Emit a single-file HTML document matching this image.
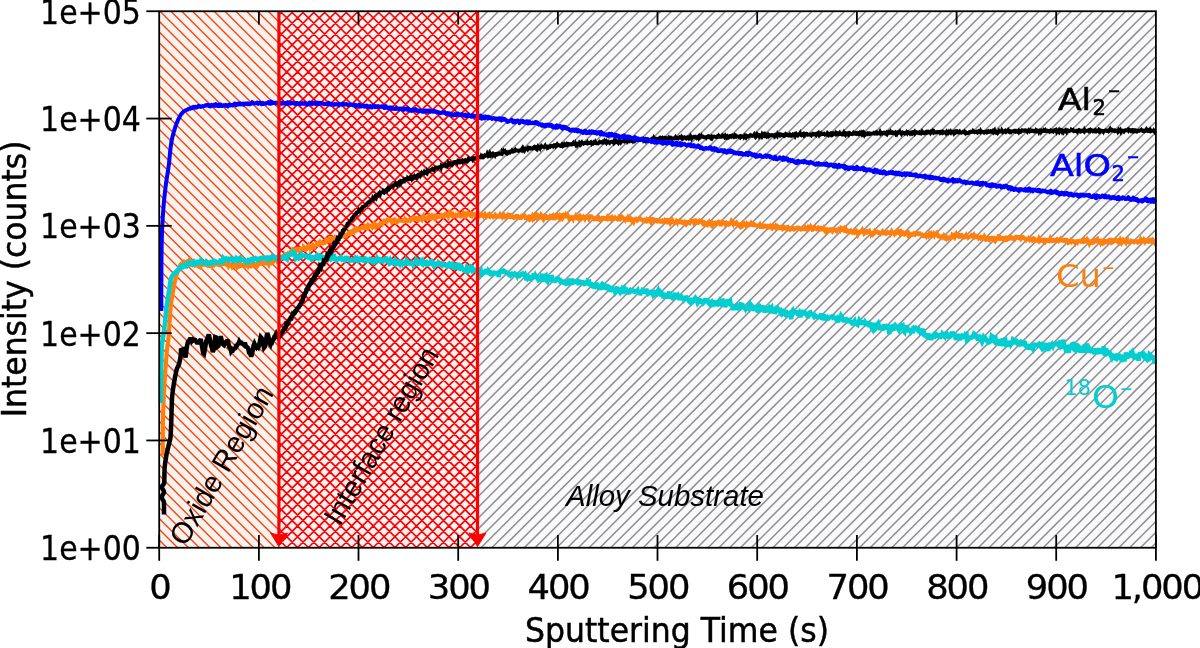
<!DOCTYPE html>
<html><head><meta charset="utf-8"><title>SIMS depth profile</title>
<style>
html,body{margin:0;padding:0;background:#fff;}
body{width:1200px;height:648px;overflow:hidden;}
svg{display:block;}
.lg{font-family:"DejaVu Sans","Liberation Sans",sans-serif;}
.hv{font-family:"Liberation Sans","DejaVu Sans",sans-serif;}
.curve{fill:none;stroke-linejoin:miter;stroke-miterlimit:2.5;stroke-linecap:butt;}
</style></head><body>
<svg width="1200" height="648" viewBox="0 0 1200 648">
<rect width="1200" height="648" fill="#ffffff"/>
<!-- regions -->
<rect x="159.2" y="11.25" width="119.7" height="536.5" fill="#f4f3f2"/>
<path d="M159.20,540.06L166.89,547.75M159.20,529.25L177.70,547.75M159.20,518.44L188.51,547.75M159.20,507.63L199.32,547.75M159.20,496.82L210.13,547.75M159.20,486.01L220.94,547.75M159.20,475.20L231.75,547.75M159.20,464.39L242.56,547.75M159.20,453.58L253.37,547.75M159.20,442.77L264.18,547.75M159.20,431.96L274.99,547.75M159.20,421.15L278.90,540.85M159.20,410.34L278.90,530.04M159.20,399.53L278.90,519.23M159.20,388.72L278.90,508.42M159.20,377.91L278.90,497.61M159.20,367.10L278.90,486.80M159.20,356.29L278.90,475.99M159.20,345.48L278.90,465.18M159.20,334.67L278.90,454.37M159.20,323.86L278.90,443.56M159.20,313.05L278.90,432.75M159.20,302.24L278.90,421.94M159.20,291.43L278.90,411.13M159.20,280.62L278.90,400.32M159.20,269.81L278.90,389.51M159.20,259.00L278.90,378.70M159.20,248.19L278.90,367.89M159.20,237.38L278.90,357.08M159.20,226.57L278.90,346.27M159.20,215.76L278.90,335.46M159.20,204.95L278.90,324.65M159.20,194.14L278.90,313.84M159.20,183.33L278.90,303.03M159.20,172.52L278.90,292.22M159.20,161.71L278.90,281.41M159.20,150.90L278.90,270.60M159.20,140.09L278.90,259.79M159.20,129.28L278.90,248.98M159.20,118.47L278.90,238.17M159.20,107.66L278.90,227.36M159.20,96.85L278.90,216.55M159.20,86.04L278.90,205.74M159.20,75.23L278.90,194.93M159.20,64.42L278.90,184.12M159.20,53.61L278.90,173.31M159.20,42.80L278.90,162.50M159.20,31.99L278.90,151.69M159.20,21.18L278.90,140.88M160.08,11.25L278.90,130.07M170.89,11.25L278.90,119.26M181.70,11.25L278.90,108.45M192.51,11.25L278.90,97.64M203.32,11.25L278.90,86.83M214.13,11.25L278.90,76.02M224.94,11.25L278.90,65.21M235.75,11.25L278.90,54.40M246.56,11.25L278.90,43.59M257.37,11.25L278.90,32.78M268.18,11.25L278.90,21.97" stroke="#ff4500" stroke-width="1.4" fill="none"/>
<rect x="278.9" y="11.25" width="198.6" height="536.5" fill="#f4f3f2"/>
<path d="M278.90,539.68L286.97,547.75M278.90,528.87L297.78,547.75M278.90,518.06L308.59,547.75M278.90,507.25L319.40,547.75M278.90,496.44L330.21,547.75M278.90,485.63L341.02,547.75M278.90,474.82L351.83,547.75M278.90,464.01L362.64,547.75M278.90,453.20L373.45,547.75M278.90,442.39L384.26,547.75M278.90,431.58L395.07,547.75M278.90,420.77L405.88,547.75M278.90,409.96L416.69,547.75M278.90,399.15L427.50,547.75M278.90,388.34L438.31,547.75M278.90,377.53L449.12,547.75M278.90,366.72L459.93,547.75M278.90,355.91L470.74,547.75M278.90,345.10L477.50,543.70M278.90,334.29L477.50,532.89M278.90,323.48L477.50,522.08M278.90,312.67L477.50,511.27M278.90,301.86L477.50,500.46M278.90,291.05L477.50,489.65M278.90,280.24L477.50,478.84M278.90,269.43L477.50,468.03M278.90,258.62L477.50,457.22M278.90,247.81L477.50,446.41M278.90,237.00L477.50,435.60M278.90,226.19L477.50,424.79M278.90,215.38L477.50,413.98M278.90,204.57L477.50,403.17M278.90,193.76L477.50,392.36M278.90,182.95L477.50,381.55M278.90,172.14L477.50,370.74M278.90,161.33L477.50,359.93M278.90,150.52L477.50,349.12M278.90,139.71L477.50,338.31M278.90,128.90L477.50,327.50M278.90,118.09L477.50,316.69M278.90,107.28L477.50,305.88M278.90,96.47L477.50,295.07M278.90,85.66L477.50,284.26M278.90,74.85L477.50,273.45M278.90,64.04L477.50,262.64M278.90,53.23L477.50,251.83M278.90,42.42L477.50,241.02M278.90,31.61L477.50,230.21M278.90,20.80L477.50,219.40M280.16,11.25L477.50,208.59M290.97,11.25L477.50,197.78M301.78,11.25L477.50,186.97M312.59,11.25L477.50,176.16M323.40,11.25L477.50,165.35M334.21,11.25L477.50,154.54M345.02,11.25L477.50,143.73M355.83,11.25L477.50,132.92M366.64,11.25L477.50,122.11M377.45,11.25L477.50,111.30M388.26,11.25L477.50,100.49M399.07,11.25L477.50,89.68M409.88,11.25L477.50,78.87M420.69,11.25L477.50,68.06M431.50,11.25L477.50,57.25M442.31,11.25L477.50,46.44M453.12,11.25L477.50,35.63M463.93,11.25L477.50,24.82M474.74,11.25L477.50,14.01M278.90,14.92L282.57,11.25M278.90,25.73L293.38,11.25M278.90,36.54L304.19,11.25M278.90,47.35L315.00,11.25M278.90,58.16L325.81,11.25M278.90,68.97L336.62,11.25M278.90,79.78L347.43,11.25M278.90,90.59L358.24,11.25M278.90,101.40L369.05,11.25M278.90,112.21L379.86,11.25M278.90,123.02L390.67,11.25M278.90,133.83L401.48,11.25M278.90,144.64L412.29,11.25M278.90,155.45L423.10,11.25M278.90,166.26L433.91,11.25M278.90,177.07L444.72,11.25M278.90,187.88L455.53,11.25M278.90,198.69L466.34,11.25M278.90,209.50L477.15,11.25M278.90,220.31L477.50,21.71M278.90,231.12L477.50,32.52M278.90,241.93L477.50,43.33M278.90,252.74L477.50,54.14M278.90,263.55L477.50,64.95M278.90,274.36L477.50,75.76M278.90,285.17L477.50,86.57M278.90,295.98L477.50,97.38M278.90,306.79L477.50,108.19M278.90,317.60L477.50,119.00M278.90,328.41L477.50,129.81M278.90,339.22L477.50,140.62M278.90,350.03L477.50,151.43M278.90,360.84L477.50,162.24M278.90,371.65L477.50,173.05M278.90,382.46L477.50,183.86M278.90,393.27L477.50,194.67M278.90,404.08L477.50,205.48M278.90,414.89L477.50,216.29M278.90,425.70L477.50,227.10M278.90,436.51L477.50,237.91M278.90,447.32L477.50,248.72M278.90,458.13L477.50,259.53M278.90,468.94L477.50,270.34M278.90,479.75L477.50,281.15M278.90,490.56L477.50,291.96M278.90,501.37L477.50,302.77M278.90,512.18L477.50,313.58M278.90,522.99L477.50,324.39M278.90,533.80L477.50,335.20M278.90,544.61L477.50,346.01M286.57,547.75L477.50,356.82M297.38,547.75L477.50,367.63M308.19,547.75L477.50,378.44M319.00,547.75L477.50,389.25M329.81,547.75L477.50,400.06M340.62,547.75L477.50,410.87M351.43,547.75L477.50,421.68M362.24,547.75L477.50,432.49M373.05,547.75L477.50,443.30M383.86,547.75L477.50,454.11M394.67,547.75L477.50,464.92M405.48,547.75L477.50,475.73M416.29,547.75L477.50,486.54M427.10,547.75L477.50,497.35M437.91,547.75L477.50,508.16M448.72,547.75L477.50,518.97M459.53,547.75L477.50,529.78M470.34,547.75L477.50,540.59" stroke="#ff0000" stroke-width="1.75" fill="none"/>
<rect x="477.5" y="11.25" width="678.4" height="536.5" fill="#fafafa"/>
<path d="M477.50,21.56L487.81,11.25M477.50,32.37L498.62,11.25M477.50,43.18L509.43,11.25M477.50,53.99L520.24,11.25M477.50,64.80L531.05,11.25M477.50,75.61L541.86,11.25M477.50,86.42L552.67,11.25M477.50,97.23L563.48,11.25M477.50,108.04L574.29,11.25M477.50,118.85L585.10,11.25M477.50,129.66L595.91,11.25M477.50,140.47L606.72,11.25M477.50,151.28L617.53,11.25M477.50,162.09L628.34,11.25M477.50,172.90L639.15,11.25M477.50,183.71L649.96,11.25M477.50,194.52L660.77,11.25M477.50,205.33L671.58,11.25M477.50,216.14L682.39,11.25M477.50,226.95L693.20,11.25M477.50,237.76L704.01,11.25M477.50,248.57L714.82,11.25M477.50,259.38L725.63,11.25M477.50,270.19L736.44,11.25M477.50,281.00L747.25,11.25M477.50,291.81L758.06,11.25M477.50,302.62L768.87,11.25M477.50,313.43L779.68,11.25M477.50,324.24L790.49,11.25M477.50,335.05L801.30,11.25M477.50,345.86L812.11,11.25M477.50,356.67L822.92,11.25M477.50,367.48L833.73,11.25M477.50,378.29L844.54,11.25M477.50,389.10L855.35,11.25M477.50,399.91L866.16,11.25M477.50,410.72L876.97,11.25M477.50,421.53L887.78,11.25M477.50,432.34L898.59,11.25M477.50,443.15L909.40,11.25M477.50,453.96L920.21,11.25M477.50,464.77L931.02,11.25M477.50,475.58L941.83,11.25M477.50,486.39L952.64,11.25M477.50,497.20L963.45,11.25M477.50,508.01L974.26,11.25M477.50,518.82L985.07,11.25M477.50,529.63L995.88,11.25M477.50,540.44L1006.69,11.25M481.00,547.75L1017.50,11.25M491.81,547.75L1028.31,11.25M502.62,547.75L1039.12,11.25M513.43,547.75L1049.93,11.25M524.24,547.75L1060.74,11.25M535.05,547.75L1071.55,11.25M545.86,547.75L1082.36,11.25M556.67,547.75L1093.17,11.25M567.48,547.75L1103.98,11.25M578.29,547.75L1114.79,11.25M589.10,547.75L1125.60,11.25M599.91,547.75L1136.41,11.25M610.72,547.75L1147.22,11.25M621.53,547.75L1155.90,13.38M632.34,547.75L1155.90,24.19M643.15,547.75L1155.90,35.00M653.96,547.75L1155.90,45.81M664.77,547.75L1155.90,56.62M675.58,547.75L1155.90,67.43M686.39,547.75L1155.90,78.24M697.20,547.75L1155.90,89.05M708.01,547.75L1155.90,99.86M718.82,547.75L1155.90,110.67M729.63,547.75L1155.90,121.48M740.44,547.75L1155.90,132.29M751.25,547.75L1155.90,143.10M762.06,547.75L1155.90,153.91M772.87,547.75L1155.90,164.72M783.68,547.75L1155.90,175.53M794.49,547.75L1155.90,186.34M805.30,547.75L1155.90,197.15M816.11,547.75L1155.90,207.96M826.92,547.75L1155.90,218.77M837.73,547.75L1155.90,229.58M848.54,547.75L1155.90,240.39M859.35,547.75L1155.90,251.20M870.16,547.75L1155.90,262.01M880.97,547.75L1155.90,272.82M891.78,547.75L1155.90,283.63M902.59,547.75L1155.90,294.44M913.40,547.75L1155.90,305.25M924.21,547.75L1155.90,316.06M935.02,547.75L1155.90,326.87M945.83,547.75L1155.90,337.68M956.64,547.75L1155.90,348.49M967.45,547.75L1155.90,359.30M978.26,547.75L1155.90,370.11M989.07,547.75L1155.90,380.92M999.88,547.75L1155.90,391.73M1010.69,547.75L1155.90,402.54M1021.50,547.75L1155.90,413.35M1032.31,547.75L1155.90,424.16M1043.12,547.75L1155.90,434.97M1053.93,547.75L1155.90,445.78M1064.74,547.75L1155.90,456.59M1075.55,547.75L1155.90,467.40M1086.36,547.75L1155.90,478.21M1097.17,547.75L1155.90,489.02M1107.98,547.75L1155.90,499.83M1118.79,547.75L1155.90,510.64M1129.60,547.75L1155.90,521.45M1140.41,547.75L1155.90,532.26M1151.22,547.75L1155.90,543.07" stroke="#8f8f95" stroke-width="1.55" fill="none"/>
<!-- curves -->
<path class="curve" d="M162.8,455.8 L162.8,455.1 L162.8,454.4 L162.8,453.7 L162.8,453.0 L162.8,452.3 L162.8,451.6 L162.8,450.9 L162.8,450.2 L162.8,449.5 L162.8,448.8 L162.8,448.1 L162.8,447.4 L162.8,446.7 L162.8,446.0 L162.8,445.3 L162.8,444.6 L162.8,443.9 L162.8,443.2 L162.8,442.5 L162.8,441.8 L162.8,441.1 L162.8,440.4 L162.8,439.7 L162.8,439.0 L162.8,438.3 L162.8,437.6 L162.9,436.9 L162.9,436.2 L162.9,435.5 L162.9,434.8 L162.9,434.1 L162.9,433.4 L162.9,432.7 L162.9,432.0 L162.9,431.3 L162.9,430.6 L162.9,429.9 L162.9,429.2 L162.9,428.5 L162.9,427.8 L162.9,427.1 L162.9,426.4 L162.9,425.7 L162.9,425.0 L162.9,424.3 L162.9,423.6 L163.0,422.9 L163.0,422.2 L163.0,421.5 L163.0,420.8 L163.0,420.1 L163.0,419.4 L163.0,418.7 L163.0,418.0 L163.1,417.3 L163.1,416.6 L163.1,415.9 L163.1,415.2 L163.1,414.5 L163.1,413.8 L163.2,413.1 L163.2,412.4 L163.2,411.7 L163.2,411.0 L163.2,410.3 L163.3,409.6 L163.3,408.9 L163.3,408.2 L163.3,407.5 L163.4,406.8 L163.4,406.1 L163.4,405.4 L163.4,404.7 L163.5,404.0 L163.5,403.3 L163.5,402.6 L163.6,401.9 L163.6,401.2 L163.6,400.5 L163.6,399.8 L163.7,399.1 L163.7,398.4 L163.7,397.7 L163.8,397.0 L163.8,396.3 L163.8,395.6 L163.9,394.9 L163.9,394.2 L163.9,393.5 L164.0,392.8 L164.0,392.1 L164.1,391.4 L164.1,390.7 L164.1,390.0 L164.2,389.3 L164.2,388.6 L164.3,387.9 L164.3,387.2 L164.3,386.5 L164.4,385.8 L164.4,385.1 L164.5,384.4 L164.5,383.7 L164.5,383.0 L164.6,382.3 L164.6,381.6 L164.7,380.9 L164.7,380.2 L164.8,379.5 L164.8,378.8 L164.9,378.1 L164.9,377.4 L164.9,376.7 L165.0,376.0 L165.0,375.3 L165.1,374.6 L165.1,373.9 L165.2,373.2 L165.2,372.5 L165.3,371.8 L165.3,371.1 L165.4,370.4 L165.4,369.7 L165.5,369.0 L165.5,368.3 L165.6,367.6 L165.6,366.9 L165.7,366.2 L165.7,365.5 L165.8,364.8 L165.8,364.2 L165.9,363.5 L165.9,362.8 L166.0,362.1 L166.0,361.4 L166.1,360.7 L166.2,360.0 L166.2,359.3 L166.3,358.6 L166.3,357.9 L166.4,357.2 L166.4,356.5 L166.5,355.8 L166.5,355.1 L166.6,354.4 L166.6,353.7 L166.7,353.0 L166.8,352.3 L166.8,351.6 L166.9,350.9 L167.0,350.2 L167.1,349.5 L167.2,348.8 L167.2,348.1 L167.3,347.4 L167.4,346.7 L167.5,346.0 L167.6,345.3 L167.7,344.7 L167.8,344.0 L167.9,343.3 L168.0,342.6 L168.1,341.9 L168.2,341.2 L168.3,340.5 L168.3,339.8 L168.4,339.1 L168.4,338.4 L168.5,337.7 L168.6,337.0 L168.6,336.3 L168.7,335.6 L168.7,334.9 L168.8,334.2 L168.8,333.5 L168.9,332.8 L168.9,332.1 L169.0,331.4 L169.0,330.7 L169.1,330.0 L169.1,329.3 L169.2,328.6 L169.2,327.9 L169.3,327.2 L169.3,326.5 L169.4,325.8 L169.4,325.1 L169.5,324.4 L169.5,323.7 L169.5,323.0 L169.6,322.3 L169.6,321.6 L169.7,320.9 L169.7,320.2 L169.8,319.5 L169.8,318.8 L169.9,318.1 L169.9,317.4 L169.9,316.7 L170.0,316.0 L170.0,315.3 L170.1,314.6 L170.2,313.9 L170.2,313.2 L170.3,312.5 L170.3,311.9 L170.4,311.2 L170.4,310.5 L170.5,309.8 L170.6,309.1 L170.6,308.4 L170.7,307.7 L170.8,307.0 L170.8,306.3 L170.9,305.6 L171.0,304.9 L171.1,304.2 L171.2,303.5 L171.2,302.8 L171.3,302.1 L171.4,301.4 L171.5,300.7 L171.6,300.0 L171.7,299.3 L171.8,298.6 L171.9,297.9 L172.0,297.2 L172.1,296.6 L172.2,295.9 L172.4,295.2 L172.5,294.5 L172.6,293.8 L172.7,293.1 L172.8,292.4 L172.9,291.7 L173.1,291.0 L173.2,290.4 L173.3,289.7 L173.4,289.0 L173.6,288.3 L173.7,287.6 L173.8,286.9 L174.0,286.2 L174.1,285.5 L174.2,284.8 L174.4,284.2 L174.5,283.5 L174.6,282.8 L174.8,282.1 L174.9,281.4 L175.1,280.7 L175.2,280.1 L175.4,279.4 L175.6,278.7 L175.7,278.0 L175.9,277.3 L176.1,276.7 L176.3,275.9 L176.5,275.3 L176.7,274.6 L176.9,274.0 L177.1,273.3 L177.3,272.7 L177.5,271.9 L177.7,271.3 L178.0,270.6 L178.3,270.0 L178.5,269.2 L178.8,268.7 L179.1,268.1 L179.5,267.4 L179.8,266.6 L180.2,266.0 L180.5,265.2 L180.9,265.3 L181.4,265.1 L181.9,263.4 L182.4,263.2 L183.0,263.1 L183.6,262.4 L184.2,263.6 L184.8,262.0 L185.5,262.2 L186.1,260.7 L186.7,263.5 L187.4,262.1 L188.0,262.8 L188.7,262.4 L189.4,260.6 L190.0,261.3 L190.7,261.8 L191.4,263.7 L192.1,263.0 L192.7,264.1 L193.4,264.2 L194.1,264.4 L194.8,265.3 L195.4,264.8 L196.1,263.3 L196.8,264.4 L197.5,266.9 L198.2,264.2 L198.9,266.8 L199.5,267.1 L200.2,264.7 L200.9,265.6 L201.6,263.7 L202.3,265.9 L203.0,264.2 L203.7,263.5 L204.4,264.5 L205.1,264.4 L205.8,264.2 L206.5,265.0 L207.2,264.7 L207.9,264.2 L208.6,265.9 L209.3,267.2 L210.0,265.1 L210.7,264.3 L211.4,264.0 L212.1,265.7 L212.8,264.6 L213.5,265.0 L214.2,262.8 L214.9,263.6 L215.6,263.5 L216.3,265.5 L217.0,264.1 L217.7,262.0 L218.4,264.5 L219.1,265.1 L219.8,265.1 L220.5,259.9 L221.2,263.8 L221.9,264.5 L222.6,264.3 L223.3,263.4 L224.0,261.9 L224.7,263.4 L225.4,263.6 L226.1,264.7 L226.8,264.9 L227.5,264.2 L228.2,265.5 L228.9,263.7 L229.6,264.3 L230.3,265.1 L231.0,265.9 L231.7,265.2 L232.4,266.9 L233.1,266.1 L233.8,264.8 L234.5,265.9 L235.2,264.9 L235.9,264.7 L236.6,264.2 L237.3,267.1 L238.0,266.4 L238.7,263.7 L239.4,266.4 L240.1,266.1 L240.8,264.6 L241.5,265.4 L242.2,267.0 L242.9,265.1 L243.6,265.2 L244.3,265.9 L245.0,263.6 L245.7,263.4 L246.4,263.3 L247.1,264.8 L247.8,265.9 L248.5,264.1 L249.2,263.6 L249.9,265.4 L250.6,264.8 L251.3,265.8 L252.0,265.1 L252.7,265.0 L253.4,265.1 L254.1,265.1 L254.8,264.0 L255.5,262.9 L256.2,266.4 L256.9,266.7 L257.6,265.6 L258.3,262.5 L259.0,264.1 L259.7,265.2 L260.4,262.2 L261.1,263.2 L261.8,263.2 L262.5,262.6 L263.2,262.6 L263.9,264.5 L264.6,262.9 L265.3,263.0 L266.0,264.9 L266.6,262.1 L267.3,259.5 L268.0,263.3 L268.7,264.5 L269.4,262.4 L270.1,262.5 L270.8,260.4 L271.5,260.5 L272.2,262.7 L272.9,262.3 L273.5,261.4 L274.2,260.1 L274.8,259.4 L275.5,259.4 L276.1,259.1 L276.7,260.2 L277.3,258.8 L277.9,258.7 L278.4,259.2 L279.0,258.8 L279.6,258.0 L280.2,258.1 L280.9,257.4 L281.5,255.5 L282.1,256.7 L282.7,256.1 L283.4,255.8 L284.0,256.0 L284.6,255.0 L285.3,256.2 L285.9,254.6 L286.5,254.6 L287.2,254.6 L287.8,253.7 L288.4,254.1 L289.1,254.3 L289.7,253.4 L290.4,251.9 L291.0,251.5 L291.7,251.4 L292.3,251.7 L292.9,249.8 L293.6,250.4 L294.2,249.8 L294.9,250.0 L295.5,249.5 L296.2,250.9 L296.9,250.4 L297.5,250.6 L298.2,248.6 L298.8,248.5 L299.5,248.8 L300.2,251.6 L300.9,250.3 L301.5,247.8 L302.2,248.9 L302.9,250.1 L303.6,246.9 L304.2,247.5 L304.9,248.8 L305.6,248.1 L306.3,246.3 L307.0,248.7 L307.6,248.1 L308.3,247.8 L309.0,245.9 L309.6,246.9 L310.3,248.3 L311.0,247.4 L311.7,247.6 L312.3,246.5 L313.0,248.0 L313.7,246.1 L314.4,247.0 L315.0,246.1 L315.7,244.6 L316.4,246.6 L317.0,243.6 L317.7,243.8 L318.4,244.3 L319.0,242.5 L319.7,241.8 L320.4,243.1 L321.1,242.6 L321.7,242.6 L322.4,243.1 L323.1,244.5 L323.7,241.9 L324.4,244.1 L325.1,242.1 L325.7,241.5 L326.4,239.4 L327.1,239.7 L327.7,241.2 L328.4,241.2 L329.1,239.7 L329.7,240.7 L330.4,240.9 L331.1,239.3 L331.7,238.2 L332.4,238.6 L333.1,239.1 L333.7,239.5 L334.4,239.8 L335.1,238.0 L335.7,238.7 L336.4,238.2 L337.0,238.2 L337.7,239.0 L338.4,239.0 L339.0,237.1 L339.7,236.7 L340.3,236.4 L341.0,236.3 L341.6,236.2 L342.3,236.2 L342.9,235.7 L343.6,234.9 L344.2,234.6 L344.8,235.4 L345.5,238.1 L346.1,235.3 L346.7,235.1 L347.4,234.5 L348.0,233.8 L348.6,235.3 L349.3,233.1 L349.9,232.2 L350.5,231.7 L351.1,232.6 L351.8,231.3 L352.4,231.1 L353.1,230.8 L353.7,230.1 L354.3,231.1 L355.0,229.2 L355.6,232.4 L356.3,228.2 L356.9,228.5 L357.6,229.6 L358.3,229.7 L358.9,228.6 L359.6,228.9 L360.3,228.5 L360.9,228.2 L361.6,228.4 L362.3,227.8 L363.0,227.1 L363.6,226.8 L364.3,227.6 L365.0,226.3 L365.7,226.9 L366.4,227.7 L367.1,226.4 L367.8,227.1 L368.4,225.3 L369.1,226.0 L369.8,226.1 L370.5,225.8 L371.2,226.0 L371.9,226.9 L372.5,225.2 L373.2,224.8 L373.9,225.8 L374.6,224.0 L375.3,225.4 L376.0,226.5 L376.7,225.2 L377.3,225.6 L378.0,225.3 L378.7,225.9 L379.4,225.0 L380.1,224.4 L380.8,221.7 L381.4,223.0 L382.1,223.9 L382.8,222.7 L383.5,221.7 L384.2,223.1 L384.9,220.9 L385.6,221.1 L386.3,221.9 L387.0,220.5 L387.6,221.0 L388.3,220.6 L389.0,219.4 L389.7,220.0 L390.4,220.2 L391.1,220.1 L391.8,222.0 L392.5,221.0 L393.2,220.5 L393.9,219.9 L394.6,221.1 L395.2,222.9 L395.9,221.3 L396.6,222.4 L397.3,222.0 L398.0,221.0 L398.7,220.4 L399.4,221.9 L400.1,219.5 L400.8,221.7 L401.5,219.8 L402.2,221.8 L402.9,220.4 L403.6,220.7 L404.3,222.5 L405.0,219.6 L405.7,220.6 L406.4,220.1 L407.1,220.9 L407.8,221.0 L408.5,220.4 L409.1,220.1 L409.8,219.3 L410.5,220.2 L411.2,219.2 L411.9,219.4 L412.6,219.3 L413.3,217.6 L414.0,217.7 L414.7,219.0 L415.4,218.7 L416.1,220.8 L416.8,216.4 L417.5,218.7 L418.2,219.5 L418.9,218.4 L419.6,219.1 L420.3,218.3 L421.0,218.2 L421.7,219.2 L422.4,216.9 L423.1,216.1 L423.8,218.8 L424.5,218.5 L425.2,218.5 L425.9,218.7 L426.6,219.0 L427.3,217.9 L428.0,218.8 L428.7,218.6 L429.4,216.9 L430.1,217.8 L430.8,218.2 L431.5,216.9 L432.2,218.7 L432.9,217.2 L433.6,218.2 L434.3,218.7 L435.0,215.6 L435.7,215.6 L436.4,217.5 L437.1,216.6 L437.8,217.2 L438.4,218.3 L439.1,215.9 L439.8,217.7 L440.5,215.8 L441.2,215.2 L441.9,216.2 L442.6,215.8 L443.3,216.5 L444.0,215.6 L444.7,216.1 L445.4,215.7 L446.1,212.1 L446.8,214.7 L447.5,214.8 L448.2,216.1 L448.9,214.1 L449.6,215.4 L450.3,214.8 L451.0,213.4 L451.7,215.2 L452.4,216.0 L453.1,215.0 L453.8,216.3 L454.5,215.8 L455.2,215.7 L455.9,214.9 L456.6,215.3 L457.3,216.0 L458.0,215.5 L458.7,214.2 L459.4,215.3 L460.1,215.8 L460.8,216.5 L461.5,216.1 L462.2,214.1 L462.9,215.7 L463.6,213.2 L464.3,214.1 L465.0,213.8 L465.7,216.1 L466.4,215.2 L467.1,214.7 L467.8,213.7 L468.5,215.6 L469.2,214.0 L469.9,214.8 L470.6,215.5 L471.3,214.1 L472.0,215.0 L472.7,212.4 L473.4,215.1 L474.1,212.8 L474.8,215.0 L475.5,215.0 L476.2,215.2 L476.9,217.0 L477.6,212.7 L478.3,215.5 L479.0,214.7 L479.7,216.0 L480.4,215.6 L481.1,215.4 L481.8,214.8 L482.5,214.6 L483.2,215.7 L483.9,213.8 L484.6,216.5 L485.3,214.7 L486.0,215.8 L486.7,214.0 L487.4,215.7 L488.1,215.0 L488.8,216.1 L489.5,216.6 L490.2,214.8 L490.9,215.6 L491.6,215.9 L492.3,217.3 L493.0,214.6 L493.7,216.7 L494.4,216.2 L495.1,215.1 L495.8,216.2 L496.5,216.0 L497.2,217.9 L497.9,215.8 L498.6,217.9 L499.3,216.4 L500.0,217.6 L500.7,215.0 L501.4,215.9 L502.1,216.8 L502.8,215.0 L503.5,214.8 L504.2,216.4 L504.9,217.0 L505.6,216.1 L506.3,215.7 L507.0,216.3 L507.7,215.3 L508.4,216.6 L509.1,216.8 L509.8,213.3 L510.5,216.7 L511.2,216.8 L511.9,215.9 L512.6,216.4 L513.3,217.3 L514.0,217.9 L514.7,217.6 L515.4,215.8 L516.1,217.5 L516.8,214.4 L517.5,217.2 L518.2,217.0 L518.9,217.4 L519.6,215.5 L520.3,218.0 L521.0,218.0 L521.7,216.9 L522.4,214.3 L523.1,217.3 L523.8,216.2 L524.5,215.5 L525.2,216.5 L525.9,219.5 L526.6,215.9 L527.3,217.2 L528.0,217.7 L528.7,218.6 L529.4,216.5 L530.1,216.6 L530.8,218.5 L531.5,217.8 L532.2,218.8 L532.9,216.2 L533.6,217.3 L534.3,218.3 L535.0,217.3 L535.7,215.9 L536.4,217.1 L537.1,214.9 L537.8,215.4 L538.5,217.5 L539.2,217.6 L539.9,217.1 L540.6,217.4 L541.3,215.1 L542.0,216.0 L542.7,217.8 L543.4,219.0 L544.1,217.2 L544.8,215.8 L545.5,215.8 L546.2,218.0 L546.9,217.9 L547.6,215.5 L548.3,216.9 L549.0,218.2 L549.7,218.2 L550.4,216.2 L551.1,216.6 L551.8,217.3 L552.5,215.7 L553.2,215.2 L553.9,216.3 L554.6,218.3 L555.3,218.2 L556.0,217.6 L556.7,215.9 L557.4,215.1 L558.1,216.1 L558.8,217.2 L559.5,218.3 L560.2,216.3 L560.9,217.3 L561.6,215.4 L562.3,215.1 L563.0,217.2 L563.7,216.0 L564.4,216.1 L565.1,215.1 L565.8,218.0 L566.5,215.3 L567.2,217.2 L567.9,215.6 L568.6,216.7 L569.3,218.6 L570.0,217.4 L570.7,217.3 L571.4,218.2 L572.1,217.8 L572.8,218.8 L573.5,215.8 L574.2,218.8 L574.9,217.5 L575.6,216.3 L576.3,218.1 L577.0,218.0 L577.7,217.4 L578.4,218.3 L579.1,216.1 L579.8,215.7 L580.5,216.8 L581.2,218.5 L581.9,217.9 L582.6,217.4 L583.3,216.7 L584.0,217.4 L584.7,218.6 L585.4,216.8 L586.1,216.7 L586.8,217.8 L587.5,218.0 L588.2,217.5 L588.9,218.8 L589.6,217.5 L590.3,216.3 L591.0,215.2 L591.7,218.7 L592.4,217.3 L593.1,217.9 L593.8,218.2 L594.5,219.2 L595.2,219.1 L595.9,219.2 L596.6,218.6 L597.3,218.2 L598.0,218.8 L598.7,217.8 L599.4,219.1 L600.1,219.9 L600.8,219.5 L601.5,218.9 L602.2,217.8 L602.9,217.7 L603.6,217.7 L604.3,217.9 L605.0,218.7 L605.7,219.0 L606.4,218.7 L607.1,219.1 L607.8,217.0 L608.5,217.8 L609.2,218.6 L609.9,218.9 L610.6,217.4 L611.3,217.0 L612.0,219.5 L612.7,219.1 L613.4,218.9 L614.1,218.1 L614.8,217.5 L615.5,218.4 L616.2,218.8 L616.9,219.0 L617.6,219.4 L618.3,218.6 L619.0,220.7 L619.7,218.2 L620.4,219.1 L621.1,218.6 L621.8,216.7 L622.5,217.3 L623.2,218.1 L623.9,218.9 L624.6,219.1 L625.3,220.1 L626.0,218.8 L626.7,218.4 L627.4,219.1 L628.1,217.6 L628.8,218.7 L629.5,217.8 L630.2,219.0 L630.9,218.3 L631.5,218.7 L632.2,221.2 L632.9,220.4 L633.6,221.6 L634.3,219.7 L635.0,219.4 L635.7,218.9 L636.4,219.7 L637.1,218.1 L637.8,220.0 L638.5,219.4 L639.2,218.7 L639.9,218.2 L640.6,219.2 L641.3,219.7 L642.0,220.2 L642.7,218.5 L643.4,220.2 L644.1,220.6 L644.8,222.5 L645.5,220.7 L646.2,221.2 L646.9,219.5 L647.6,220.2 L648.3,219.4 L649.0,219.3 L649.7,220.6 L650.4,219.9 L651.1,221.6 L651.8,220.1 L652.5,220.7 L653.2,219.1 L653.9,219.4 L654.6,221.8 L655.3,220.0 L656.0,222.2 L656.7,220.1 L657.4,220.1 L658.1,223.1 L658.8,219.4 L659.5,220.6 L660.2,221.7 L660.9,221.8 L661.6,219.9 L662.3,223.2 L663.0,220.5 L663.7,219.0 L664.4,221.9 L665.1,220.4 L665.8,221.0 L666.5,221.7 L667.2,220.0 L667.9,220.2 L668.6,220.9 L669.3,222.0 L670.0,219.8 L670.7,222.7 L671.4,221.7 L672.1,220.2 L672.8,221.4 L673.5,222.0 L674.2,222.8 L674.9,222.4 L675.6,222.7 L676.3,221.4 L677.0,222.4 L677.7,219.4 L678.4,222.7 L679.1,221.7 L679.8,223.4 L680.5,221.2 L681.2,221.4 L681.9,222.0 L682.6,222.9 L683.3,222.7 L684.0,223.2 L684.7,222.2 L685.4,223.3 L686.1,224.3 L686.8,223.4 L687.5,222.8 L688.2,220.6 L688.9,222.7 L689.6,223.1 L690.3,221.8 L691.0,223.0 L691.7,219.7 L692.4,221.1 L693.1,220.8 L693.8,222.3 L694.5,220.8 L695.2,220.6 L695.9,223.1 L696.6,220.0 L697.3,222.5 L698.0,222.7 L698.7,221.3 L699.4,220.7 L700.1,221.6 L700.8,221.3 L701.5,221.2 L702.2,222.4 L702.9,222.2 L703.6,224.6 L704.3,224.8 L705.0,222.8 L705.7,223.3 L706.4,224.6 L707.1,225.0 L707.8,223.0 L708.5,222.2 L709.2,225.0 L709.9,223.2 L710.6,223.6 L711.3,224.8 L712.0,223.7 L712.7,224.9 L713.4,223.3 L714.0,223.8 L714.7,223.4 L715.4,225.8 L716.1,222.0 L716.8,223.3 L717.5,222.5 L718.2,222.6 L718.9,221.9 L719.6,222.3 L720.3,224.4 L721.0,224.5 L721.7,222.3 L722.4,221.7 L723.1,222.5 L723.8,224.7 L724.5,223.0 L725.2,220.9 L725.9,224.0 L726.6,223.1 L727.3,223.9 L728.0,223.7 L728.7,221.9 L729.4,224.3 L730.1,223.9 L730.8,222.5 L731.5,221.0 L732.2,221.9 L732.9,222.0 L733.6,223.9 L734.3,222.6 L735.0,222.8 L735.7,223.4 L736.4,222.7 L737.1,224.1 L737.8,224.2 L738.5,225.0 L739.2,223.0 L739.9,224.8 L740.6,224.4 L741.3,227.0 L742.0,226.6 L742.7,224.8 L743.4,226.3 L744.1,223.6 L744.8,224.4 L745.5,225.2 L746.2,226.0 L746.9,224.3 L747.6,225.5 L748.3,226.7 L749.0,222.5 L749.7,223.8 L750.4,223.2 L751.1,226.3 L751.8,223.9 L752.5,224.6 L753.2,224.0 L753.9,224.8 L754.6,224.6 L755.3,225.2 L756.0,225.2 L756.7,226.8 L757.4,224.3 L758.1,225.7 L758.8,225.5 L759.5,224.7 L760.1,226.7 L760.8,227.8 L761.5,224.9 L762.2,228.3 L762.9,226.0 L763.6,226.1 L764.3,224.1 L765.0,226.4 L765.7,226.2 L766.4,226.2 L767.1,227.3 L767.8,226.5 L768.5,227.1 L769.2,226.2 L769.9,225.7 L770.6,227.1 L771.3,227.7 L772.0,228.4 L772.7,227.4 L773.4,226.5 L774.1,227.4 L774.8,227.2 L775.5,226.2 L776.2,227.9 L776.9,227.4 L777.6,226.4 L778.3,227.0 L779.0,228.2 L779.7,229.2 L780.4,225.7 L781.1,227.3 L781.8,228.3 L782.5,229.0 L783.2,228.2 L783.9,226.9 L784.6,227.5 L785.3,228.1 L786.0,227.4 L786.7,227.3 L787.4,227.1 L788.1,230.8 L788.8,228.6 L789.5,228.4 L790.2,229.4 L790.9,228.7 L791.6,228.4 L792.3,228.8 L793.0,227.7 L793.7,228.0 L794.4,229.3 L795.1,228.9 L795.8,227.1 L796.5,229.7 L797.2,227.7 L797.9,226.4 L798.6,228.8 L799.3,228.7 L800.0,228.3 L800.7,227.0 L801.4,229.3 L802.1,229.0 L802.8,228.5 L803.5,228.4 L804.2,228.6 L804.9,230.5 L805.6,227.8 L806.3,228.6 L807.0,229.4 L807.7,229.0 L808.4,227.3 L809.1,228.0 L809.8,227.6 L810.5,226.5 L811.2,227.7 L811.9,229.0 L812.6,228.3 L813.3,229.2 L814.0,228.6 L814.7,227.6 L815.4,229.0 L816.1,226.8 L816.8,230.1 L817.5,228.6 L818.2,230.9 L818.9,227.9 L819.6,228.4 L820.3,229.1 L821.0,229.3 L821.7,228.0 L822.4,228.3 L823.1,230.2 L823.8,228.8 L824.5,230.5 L825.2,231.3 L825.9,228.0 L826.6,229.2 L827.3,231.5 L828.0,230.8 L828.7,228.3 L829.4,230.5 L830.1,231.6 L830.8,227.7 L831.5,230.4 L832.2,231.2 L832.9,229.5 L833.6,229.4 L834.3,230.8 L835.0,228.3 L835.7,230.6 L836.4,231.2 L837.1,230.0 L837.8,228.2 L838.5,231.5 L839.2,229.7 L839.9,230.4 L840.6,228.9 L841.2,229.8 L841.9,231.2 L842.6,228.5 L843.3,228.8 L844.0,228.2 L844.7,231.0 L845.4,231.1 L846.1,229.8 L846.8,231.2 L847.5,231.0 L848.2,233.1 L848.9,229.9 L849.6,231.6 L850.3,231.0 L851.0,233.5 L851.7,232.2 L852.4,230.6 L853.1,232.4 L853.8,231.9 L854.5,231.2 L855.2,232.7 L855.9,232.4 L856.6,231.1 L857.3,231.8 L858.0,234.3 L858.7,233.2 L859.4,231.9 L860.1,231.6 L860.8,232.1 L861.5,231.6 L862.2,230.4 L862.9,232.3 L863.6,230.7 L864.3,233.1 L865.0,232.3 L865.7,232.5 L866.4,231.5 L867.1,232.1 L867.8,231.4 L868.5,231.7 L869.2,231.1 L869.9,233.8 L870.6,231.1 L871.3,234.1 L872.0,233.1 L872.7,231.4 L873.4,233.7 L874.1,232.8 L874.8,231.5 L875.5,232.6 L876.2,232.1 L876.9,231.7 L877.6,232.5 L878.3,232.9 L879.0,232.4 L879.7,232.8 L880.4,233.7 L881.1,232.8 L881.8,232.6 L882.5,231.6 L883.2,232.9 L883.9,232.5 L884.6,232.7 L885.3,233.7 L886.0,233.8 L886.7,232.9 L887.4,232.2 L888.1,232.9 L888.8,233.0 L889.5,232.9 L890.2,231.1 L890.9,232.9 L891.6,231.5 L892.3,232.9 L893.0,233.0 L893.7,232.7 L894.4,233.8 L895.1,232.6 L895.8,233.0 L896.5,231.7 L897.2,232.6 L897.9,232.5 L898.6,232.8 L899.3,232.6 L900.0,229.1 L900.7,234.3 L901.4,233.6 L902.1,230.8 L902.8,233.3 L903.5,234.1 L904.2,234.5 L904.9,234.0 L905.6,233.2 L906.3,232.9 L907.0,235.6 L907.7,234.1 L908.4,235.5 L909.1,233.7 L909.8,234.8 L910.5,234.8 L911.2,234.7 L911.9,232.6 L912.6,236.0 L913.3,234.2 L914.0,233.4 L914.7,234.0 L915.4,231.9 L916.1,235.1 L916.8,233.3 L917.5,234.0 L918.2,234.0 L918.9,232.0 L919.6,233.6 L920.3,235.4 L920.9,233.4 L921.6,234.6 L922.3,235.5 L923.0,237.4 L923.7,233.7 L924.4,235.7 L925.1,235.4 L925.8,235.2 L926.5,236.4 L927.2,235.4 L927.9,233.6 L928.6,235.1 L929.3,233.9 L930.0,234.9 L930.7,234.1 L931.4,236.1 L932.1,235.6 L932.8,235.2 L933.5,234.1 L934.2,235.4 L934.9,233.9 L935.6,234.2 L936.3,233.5 L937.0,236.2 L937.7,234.9 L938.4,236.4 L939.1,236.7 L939.8,236.7 L940.5,235.3 L941.2,237.3 L941.9,237.1 L942.6,234.7 L943.3,236.5 L944.0,235.4 L944.7,236.2 L945.4,237.7 L946.1,236.9 L946.8,238.3 L947.5,237.3 L948.2,237.4 L948.9,238.3 L949.6,237.8 L950.3,237.3 L951.0,237.8 L951.7,237.5 L952.4,234.7 L953.1,235.0 L953.8,236.0 L954.5,237.0 L955.2,235.0 L955.9,234.0 L956.6,235.7 L957.3,235.2 L958.0,237.3 L958.7,233.5 L959.4,236.8 L960.1,236.7 L960.8,233.8 L961.5,235.1 L962.2,236.0 L962.9,236.8 L963.6,236.5 L964.3,237.3 L965.0,236.9 L965.7,235.9 L966.4,238.6 L967.1,237.2 L967.8,235.4 L968.5,237.4 L969.2,236.8 L969.9,236.5 L970.6,236.3 L971.3,235.4 L972.0,236.0 L972.7,235.6 L973.4,234.9 L974.1,237.4 L974.8,237.3 L975.5,236.8 L976.2,235.9 L976.9,236.3 L977.6,238.8 L978.3,236.3 L979.0,238.2 L979.7,237.7 L980.4,238.3 L981.1,236.9 L981.8,237.2 L982.5,237.5 L983.2,236.4 L983.9,239.1 L984.6,236.9 L985.3,238.0 L986.0,239.8 L986.7,239.6 L987.4,237.5 L988.1,238.8 L988.8,239.4 L989.5,236.3 L990.2,240.6 L990.9,239.1 L991.6,238.2 L992.3,238.5 L993.0,236.3 L993.7,239.3 L994.4,240.2 L995.1,238.3 L995.8,240.2 L996.5,239.2 L997.2,237.0 L997.9,239.0 L998.6,236.2 L999.3,236.3 L1000.0,238.9 L1000.7,238.8 L1001.4,238.0 L1002.1,238.0 L1002.8,236.5 L1003.5,239.1 L1004.2,238.0 L1004.9,237.8 L1005.6,241.7 L1006.3,238.3 L1007.0,238.0 L1007.7,240.2 L1008.4,238.4 L1009.1,237.6 L1009.8,239.7 L1010.5,237.9 L1011.2,237.2 L1011.9,237.6 L1012.6,238.0 L1013.3,238.9 L1014.0,239.2 L1014.7,236.6 L1015.4,239.1 L1016.1,237.1 L1016.8,237.2 L1017.5,235.3 L1018.1,239.3 L1018.8,238.2 L1019.5,237.3 L1020.2,237.3 L1020.9,238.6 L1021.6,237.6 L1022.3,235.4 L1023.0,238.1 L1023.7,237.9 L1024.4,238.2 L1025.1,238.3 L1025.8,239.3 L1026.5,237.8 L1027.2,240.7 L1027.9,239.0 L1028.6,238.2 L1029.3,239.2 L1030.0,237.4 L1030.7,239.2 L1031.4,238.7 L1032.1,238.5 L1032.8,240.5 L1033.5,240.1 L1034.2,238.8 L1034.9,239.3 L1035.6,240.3 L1036.3,242.1 L1037.0,239.9 L1037.7,239.9 L1038.4,240.7 L1039.1,238.8 L1039.8,240.1 L1040.5,241.0 L1041.2,240.7 L1041.9,240.7 L1042.6,238.2 L1043.3,240.4 L1044.0,241.9 L1044.7,242.5 L1045.4,241.5 L1046.1,239.8 L1046.8,239.9 L1047.5,240.2 L1048.2,242.4 L1048.9,238.9 L1049.6,240.0 L1050.3,238.4 L1051.0,239.7 L1051.7,239.8 L1052.4,241.0 L1053.1,240.9 L1053.8,240.3 L1054.5,239.8 L1055.2,239.7 L1055.9,242.0 L1056.6,240.2 L1057.3,239.3 L1058.0,239.8 L1058.7,240.7 L1059.4,239.8 L1060.1,239.1 L1060.8,241.7 L1061.5,240.0 L1062.2,240.6 L1062.9,240.8 L1063.6,240.3 L1064.3,240.5 L1065.0,238.3 L1065.7,240.7 L1066.4,240.4 L1067.1,240.2 L1067.8,240.6 L1068.5,242.8 L1069.2,242.5 L1069.9,242.1 L1070.6,242.3 L1071.3,240.2 L1072.0,240.6 L1072.7,241.1 L1073.4,241.6 L1074.1,241.5 L1074.8,242.6 L1075.5,240.5 L1076.2,242.2 L1076.9,240.1 L1077.6,241.5 L1078.3,239.9 L1079.0,242.4 L1079.7,240.6 L1080.4,242.6 L1081.1,239.3 L1081.8,243.3 L1082.5,241.4 L1083.2,241.9 L1083.9,241.7 L1084.6,239.7 L1085.3,240.4 L1086.0,240.8 L1086.7,241.3 L1087.4,239.7 L1088.1,240.7 L1088.8,241.4 L1089.5,243.4 L1090.2,242.1 L1090.9,240.0 L1091.6,242.2 L1092.3,242.9 L1093.0,242.7 L1093.7,240.9 L1094.4,240.3 L1095.1,240.9 L1095.8,243.1 L1096.5,239.6 L1097.2,239.1 L1097.9,242.4 L1098.6,240.8 L1099.3,241.5 L1100.0,241.1 L1100.7,242.7 L1101.4,241.2 L1102.1,240.8 L1102.8,240.7 L1103.5,243.4 L1104.2,243.1 L1104.9,241.0 L1105.6,240.8 L1106.3,241.1 L1107.0,241.8 L1107.7,240.2 L1108.4,242.6 L1109.1,241.2 L1109.8,238.5 L1110.5,239.7 L1111.2,240.4 L1111.9,242.8 L1112.6,242.4 L1113.3,240.9 L1114.0,238.7 L1114.7,240.7 L1115.4,240.8 L1116.1,240.3 L1116.8,241.0 L1117.5,241.7 L1118.2,240.5 L1118.9,240.0 L1119.6,241.4 L1120.3,239.7 L1121.0,241.0 L1121.7,242.8 L1122.4,241.8 L1123.1,240.4 L1123.8,241.6 L1124.5,241.4 L1125.2,241.8 L1125.9,242.7 L1126.6,241.0 L1127.3,240.2 L1128.0,243.2 L1128.7,240.6 L1129.4,242.1 L1130.1,241.8 L1130.8,241.0 L1131.5,241.8 L1132.2,241.5 L1132.9,241.3 L1133.6,241.8 L1134.3,240.2 L1135.0,241.9 L1135.7,239.9 L1136.4,241.8 L1137.1,242.2 L1137.8,239.9 L1138.5,242.9 L1139.2,239.7 L1139.9,240.9 L1140.6,239.5 L1141.3,240.8 L1142.0,241.2 L1142.7,240.5 L1143.4,242.3 L1144.1,240.4 L1144.8,241.6 L1145.5,240.2 L1146.2,240.3 L1146.9,241.4 L1147.6,241.6 L1148.3,240.8 L1149.0,241.5 L1149.7,241.6 L1150.4,240.4 L1151.1,241.1 L1151.8,240.1 L1152.5,239.5 L1153.2,240.2 L1153.9,240.6 L1154.6,242.1 L1155.0,241.3" stroke="#ff7f0e" stroke-width="4.1"/>
<path class="curve" d="M160.8,403.0 L160.8,402.2 L160.8,401.4 L160.8,400.6 L160.8,399.8 L160.8,399.0 L160.8,398.2 L160.8,397.4 L160.8,396.6 L160.8,395.8 L160.8,395.0 L160.8,394.2 L160.8,393.3 L160.8,392.5 L160.8,391.7 L160.8,390.9 L160.8,390.1 L160.9,389.3 L160.9,388.5 L160.9,387.7 L160.9,386.9 L160.9,386.1 L160.9,385.3 L160.9,384.5 L160.9,383.7 L160.9,382.9 L160.9,382.1 L160.9,381.3 L160.9,380.5 L161.0,379.7 L161.0,378.9 L161.0,378.1 L161.0,377.3 L161.0,376.5 L161.0,375.7 L161.0,374.9 L161.0,374.1 L161.1,373.3 L161.1,372.5 L161.1,371.7 L161.1,370.9 L161.1,370.1 L161.1,369.3 L161.1,368.5 L161.2,367.7 L161.2,366.9 L161.2,366.1 L161.2,365.3 L161.2,364.5 L161.2,363.7 L161.3,362.9 L161.3,362.1 L161.3,361.3 L161.3,360.5 L161.3,359.8 L161.4,359.0 L161.4,358.2 L161.4,357.4 L161.4,356.6 L161.5,355.8 L161.5,355.0 L161.5,354.2 L161.5,353.4 L161.6,352.6 L161.6,351.8 L161.6,351.0 L161.6,350.2 L161.7,349.4 L161.7,348.6 L161.7,347.8 L161.7,347.0 L161.8,346.2 L161.9,345.4 L161.9,344.6 L162.0,343.8 L162.1,343.0 L162.2,342.2 L162.4,341.5 L162.5,340.7 L162.6,339.9 L162.7,339.1 L162.9,338.3 L163.0,337.5 L163.1,336.7 L163.3,335.9 L163.4,335.1 L163.6,334.3 L163.7,333.5 L163.8,332.8 L163.9,332.0 L164.0,331.2 L164.2,330.4 L164.3,329.6 L164.3,328.8 L164.4,328.0 L164.5,327.2 L164.6,326.4 L164.7,325.6 L164.8,324.8 L164.9,324.0 L165.0,323.2 L165.0,322.4 L165.1,321.6 L165.2,320.8 L165.3,320.0 L165.3,319.3 L165.4,318.4 L165.5,317.6 L165.6,316.9 L165.7,316.1 L165.7,315.3 L165.8,314.5 L165.9,313.7 L166.0,312.9 L166.1,312.1 L166.2,311.3 L166.3,310.5 L166.3,309.7 L166.4,308.9 L166.5,308.1 L166.6,307.3 L166.7,306.5 L166.8,305.7 L166.9,304.9 L167.0,304.1 L167.1,303.3 L167.3,302.6 L167.4,301.8 L167.5,301.0 L167.6,300.2 L167.7,299.4 L167.8,298.6 L167.9,297.8 L168.1,297.0 L168.2,296.2 L168.3,295.5 L168.4,294.7 L168.6,293.9 L168.7,293.1 L168.8,292.3 L169.0,291.5 L169.1,290.7 L169.2,289.9 L169.3,289.1 L169.5,288.3 L169.6,287.5 L169.7,286.7 L169.8,285.8 L169.9,285.0 L170.0,284.2 L170.2,283.3 L170.3,282.5 L170.4,281.7 L170.6,280.9 L170.7,280.2 L170.9,279.4 L171.1,278.6 L171.3,277.9 L171.5,277.2 L171.8,276.5 L172.1,276.0 L172.5,275.5 L173.1,274.9 L173.6,274.0 L174.3,273.3 L174.9,273.2 L175.6,272.4 L176.2,271.8 L176.8,271.0 L177.4,271.4 L178.0,270.6 L178.6,269.5 L179.2,269.5 L179.8,269.1 L180.4,266.7 L181.1,267.1 L181.8,266.7 L182.4,267.0 L183.1,265.9 L183.8,265.4 L184.6,265.1 L185.3,266.6 L186.1,266.6 L186.8,263.8 L187.6,263.2 L188.4,266.0 L189.1,262.7 L189.9,262.6 L190.7,263.5 L191.5,263.9 L192.3,264.5 L193.0,263.8 L193.8,262.4 L194.6,263.9 L195.4,263.6 L196.2,265.3 L197.0,263.2 L197.8,261.8 L198.6,262.0 L199.4,264.6 L200.1,262.4 L200.9,260.6 L201.7,262.1 L202.5,262.6 L203.3,264.7 L204.1,261.3 L204.9,263.1 L205.7,263.1 L206.5,261.5 L207.3,262.0 L208.1,264.1 L208.9,264.0 L209.7,263.0 L210.5,262.4 L211.3,263.2 L212.1,261.8 L212.9,261.8 L213.7,260.9 L214.5,261.7 L215.3,261.6 L216.1,263.9 L216.9,261.2 L217.7,262.9 L218.5,262.8 L219.3,261.1 L220.1,263.4 L220.9,258.7 L221.7,261.0 L222.5,261.7 L223.3,258.2 L224.1,259.1 L224.9,261.4 L225.7,259.7 L226.5,258.6 L227.3,259.2 L228.1,258.9 L228.9,260.2 L229.7,259.8 L230.5,258.9 L231.3,258.4 L232.1,259.1 L232.9,260.7 L233.7,259.6 L234.5,260.0 L235.3,259.2 L236.1,258.0 L236.9,258.8 L237.6,260.4 L238.4,259.8 L239.2,258.8 L240.0,258.1 L240.8,260.1 L241.6,259.7 L242.4,259.5 L243.2,259.8 L244.0,260.6 L244.8,260.7 L245.6,262.2 L246.4,262.2 L247.2,261.9 L248.0,261.9 L248.8,259.8 L249.6,260.0 L250.4,260.5 L251.2,259.5 L252.0,260.3 L252.8,260.8 L253.6,258.4 L254.4,257.1 L255.2,260.3 L256.0,258.8 L256.8,259.5 L257.6,257.0 L258.4,260.5 L259.2,259.3 L260.0,258.3 L260.8,258.0 L261.6,258.6 L262.4,258.2 L263.2,258.2 L264.0,256.3 L264.8,260.0 L265.6,258.5 L266.4,258.6 L267.2,258.7 L268.0,255.9 L268.8,259.0 L269.6,257.9 L270.4,257.9 L271.2,258.3 L272.0,257.0 L272.8,259.1 L273.6,257.3 L274.4,257.0 L275.2,257.1 L276.0,258.3 L276.8,259.0 L277.6,257.5 L278.4,256.4 L279.2,259.4 L280.0,256.9 L280.8,259.4 L281.6,257.9 L282.3,257.1 L283.1,257.0 L283.9,258.0 L284.7,258.3 L285.5,256.8 L286.3,257.8 L287.1,258.8 L287.8,255.7 L288.6,254.5 L289.4,254.3 L290.2,253.7 L291.0,254.5 L291.8,254.3 L292.6,253.6 L293.4,255.9 L294.2,252.8 L295.0,253.9 L295.8,258.0 L296.6,257.0 L297.4,256.4 L298.2,256.8 L298.9,258.0 L299.7,257.1 L300.5,256.1 L301.3,254.6 L302.1,256.0 L302.9,255.3 L303.7,255.4 L304.5,255.5 L305.3,256.4 L306.1,256.1 L306.9,257.7 L307.7,255.0 L308.5,256.5 L309.3,259.0 L310.1,256.8 L310.9,258.3 L311.7,259.4 L312.5,258.7 L313.3,258.2 L314.1,255.8 L314.9,257.3 L315.7,257.3 L316.5,256.0 L317.3,257.4 L318.1,256.5 L318.9,256.0 L319.7,258.3 L320.5,258.0 L321.3,256.5 L322.1,256.7 L322.9,257.2 L323.7,257.3 L324.5,257.3 L325.3,257.7 L326.1,257.3 L326.9,258.4 L327.7,259.1 L328.5,258.8 L329.3,257.3 L330.1,257.5 L330.9,258.9 L331.7,258.0 L332.5,258.3 L333.3,255.8 L334.1,255.8 L334.9,258.9 L335.7,258.9 L336.5,260.3 L337.3,259.4 L338.1,259.1 L338.9,258.6 L339.7,256.9 L340.5,259.9 L341.3,258.0 L342.1,259.5 L342.9,259.1 L343.7,259.2 L344.5,260.0 L345.3,258.2 L346.1,258.4 L346.9,257.8 L347.7,258.1 L348.5,261.0 L349.3,258.5 L350.1,260.6 L350.9,260.2 L351.7,260.2 L352.5,260.4 L353.3,258.1 L354.1,260.0 L354.9,261.6 L355.7,258.6 L356.4,259.5 L357.2,258.6 L358.0,259.9 L358.8,258.0 L359.6,261.5 L360.4,258.8 L361.2,257.3 L362.0,261.6 L362.8,260.5 L363.6,260.0 L364.4,260.5 L365.2,258.5 L366.0,259.1 L366.8,260.4 L367.6,260.7 L368.4,260.8 L369.2,259.9 L370.0,259.1 L370.8,259.6 L371.6,261.4 L372.4,262.0 L373.2,259.7 L374.0,259.6 L374.8,261.9 L375.6,261.2 L376.4,261.1 L377.2,258.4 L378.0,259.6 L378.8,259.4 L379.6,260.3 L380.4,257.7 L381.2,262.8 L382.0,260.4 L382.8,261.0 L383.6,258.4 L384.4,260.0 L385.2,261.9 L386.0,256.6 L386.8,260.7 L387.6,261.3 L388.4,259.6 L389.2,261.8 L390.0,260.4 L390.8,262.6 L391.6,261.9 L392.4,261.6 L393.2,264.2 L394.0,262.8 L394.8,263.6 L395.6,260.4 L396.4,261.3 L397.2,263.4 L397.9,263.6 L398.7,262.5 L399.5,263.7 L400.3,260.4 L401.1,263.2 L401.9,261.4 L402.7,263.5 L403.5,262.4 L404.3,262.2 L405.1,263.1 L405.9,265.5 L406.7,260.6 L407.5,261.5 L408.3,265.3 L409.1,262.2 L409.9,265.1 L410.7,262.9 L411.5,262.7 L412.3,262.9 L413.1,264.7 L413.9,263.1 L414.7,262.8 L415.5,262.3 L416.3,259.7 L417.1,260.6 L417.9,263.8 L418.7,263.7 L419.5,262.6 L420.3,262.9 L421.1,261.4 L421.9,262.8 L422.7,261.3 L423.5,263.3 L424.3,262.0 L425.1,262.8 L425.9,263.9 L426.7,262.9 L427.5,264.4 L428.3,264.1 L429.1,264.0 L429.9,265.4 L430.7,261.4 L431.5,261.2 L432.3,264.2 L433.1,264.6 L433.9,266.0 L434.7,264.3 L435.5,264.4 L436.3,262.1 L437.1,264.5 L437.9,264.6 L438.7,262.3 L439.5,262.8 L440.3,264.1 L441.1,264.8 L441.8,261.7 L442.6,264.8 L443.4,265.1 L444.2,264.6 L445.0,265.3 L445.8,265.5 L446.6,263.6 L447.4,265.6 L448.1,264.8 L448.9,264.0 L449.7,265.7 L450.5,267.7 L451.3,263.8 L452.1,263.8 L452.9,264.1 L453.6,269.4 L454.4,266.5 L455.2,267.1 L456.0,266.3 L456.8,266.3 L457.6,262.9 L458.4,268.2 L459.2,268.5 L460.0,265.5 L460.8,265.9 L461.6,266.8 L462.4,268.6 L463.1,269.1 L463.9,270.5 L464.7,270.9 L465.5,270.5 L466.3,271.0 L467.1,267.4 L467.9,268.3 L468.7,270.8 L469.5,269.9 L470.3,269.3 L471.1,266.5 L471.9,266.8 L472.7,270.7 L473.5,270.3 L474.3,269.6 L475.1,269.7 L475.8,268.1 L476.6,271.3 L477.4,272.5 L478.2,273.6 L479.0,271.5 L479.8,271.1 L480.6,270.1 L481.3,274.7 L482.1,274.2 L482.9,271.0 L483.7,272.4 L484.5,272.2 L485.3,271.4 L486.1,269.4 L486.9,272.1 L487.6,273.8 L488.4,271.1 L489.2,272.2 L490.0,270.5 L490.8,275.6 L491.6,274.5 L492.4,273.8 L493.2,273.4 L494.0,272.8 L494.8,273.5 L495.6,273.1 L496.4,273.1 L497.2,273.3 L498.0,273.4 L498.8,276.9 L499.6,270.7 L500.4,273.1 L501.2,271.0 L502.0,270.8 L502.8,269.4 L503.6,273.4 L504.4,271.1 L505.2,271.6 L505.9,273.6 L506.7,271.5 L507.5,273.3 L508.3,273.4 L509.1,274.9 L509.9,275.4 L510.7,272.7 L511.5,275.4 L512.3,274.0 L513.1,274.5 L513.9,273.9 L514.7,276.2 L515.5,272.4 L516.3,274.6 L517.1,276.0 L517.9,273.9 L518.7,277.5 L519.5,273.4 L520.3,275.0 L521.1,274.1 L521.9,274.0 L522.7,273.5 L523.4,274.6 L524.2,275.5 L525.0,274.6 L525.8,277.4 L526.6,280.1 L527.4,274.1 L528.2,277.9 L529.0,277.0 L529.8,277.2 L530.6,280.1 L531.4,278.7 L532.2,277.3 L533.0,277.1 L533.8,273.5 L534.6,277.9 L535.4,275.6 L536.2,277.1 L537.0,277.0 L537.8,278.4 L538.6,280.2 L539.4,279.8 L540.2,279.3 L541.0,277.0 L541.8,278.2 L542.6,278.8 L543.4,273.8 L544.2,280.9 L545.0,276.7 L545.8,275.9 L546.6,280.5 L547.4,281.4 L548.2,277.1 L549.0,277.4 L549.8,281.7 L550.6,278.8 L551.4,275.6 L552.2,277.1 L552.9,281.9 L553.7,279.9 L554.5,280.9 L555.3,280.9 L556.1,280.2 L556.9,278.8 L557.7,277.1 L558.5,280.5 L559.3,278.4 L560.1,280.4 L560.9,283.5 L561.6,281.9 L562.4,281.4 L563.2,281.7 L564.0,282.9 L564.8,283.3 L565.6,280.0 L566.4,282.4 L567.2,284.8 L567.9,283.3 L568.7,281.0 L569.5,281.1 L570.3,279.0 L571.1,281.0 L571.9,284.7 L572.7,282.1 L573.4,280.9 L574.2,281.4 L575.0,282.1 L575.8,282.1 L576.6,281.8 L577.4,281.2 L578.2,283.4 L578.9,284.8 L579.7,281.6 L580.5,281.8 L581.3,284.7 L582.1,280.7 L582.9,282.3 L583.7,282.9 L584.5,284.0 L585.3,283.6 L586.0,282.9 L586.8,285.0 L587.6,281.5 L588.4,282.1 L589.2,281.8 L590.0,286.2 L590.8,282.4 L591.6,285.9 L592.4,286.3 L593.1,286.6 L593.9,285.2 L594.7,284.8 L595.5,286.0 L596.3,285.1 L597.1,282.8 L597.9,288.5 L598.7,285.2 L599.5,289.7 L600.3,287.8 L601.1,286.3 L601.8,287.8 L602.6,289.2 L603.4,285.0 L604.2,285.8 L605.0,285.7 L605.8,287.9 L606.6,288.2 L607.4,287.7 L608.2,286.5 L609.0,287.0 L609.8,289.9 L610.6,289.9 L611.4,288.5 L612.2,286.3 L612.9,289.7 L613.7,289.4 L614.5,289.6 L615.3,292.3 L616.1,291.1 L616.9,288.5 L617.7,288.7 L618.5,292.7 L619.3,291.0 L620.1,292.2 L620.9,290.6 L621.7,289.2 L622.5,291.3 L623.3,293.4 L624.1,291.3 L624.9,288.8 L625.7,290.1 L626.5,289.8 L627.3,290.9 L628.0,292.3 L628.8,293.9 L629.6,291.0 L630.4,290.1 L631.2,291.0 L632.0,291.1 L632.8,290.5 L633.6,291.4 L634.4,291.6 L635.2,289.7 L636.0,292.7 L636.8,291.3 L637.6,290.3 L638.4,292.8 L639.1,291.2 L639.9,294.8 L640.7,293.4 L641.5,292.0 L642.3,290.5 L643.1,291.1 L643.9,293.2 L644.7,290.7 L645.5,293.2 L646.3,288.6 L647.1,292.9 L647.9,293.8 L648.6,293.2 L649.4,292.8 L650.2,294.7 L651.0,291.7 L651.8,291.6 L652.6,293.5 L653.4,295.4 L654.2,294.8 L655.0,293.2 L655.8,294.1 L656.6,294.4 L657.4,291.6 L658.2,290.2 L659.0,292.3 L659.8,291.7 L660.5,293.4 L661.3,292.6 L662.1,293.4 L662.9,295.8 L663.7,295.4 L664.5,295.4 L665.3,298.5 L666.1,295.1 L666.9,295.4 L667.7,298.3 L668.5,294.3 L669.3,291.6 L670.1,298.5 L670.9,296.9 L671.7,297.3 L672.5,298.2 L673.3,297.7 L674.1,295.3 L674.9,296.0 L675.7,293.0 L676.4,296.4 L677.2,296.6 L678.0,295.5 L678.8,297.5 L679.6,299.8 L680.4,294.6 L681.2,298.1 L682.0,298.5 L682.8,298.9 L683.6,295.9 L684.4,299.5 L685.1,298.7 L685.9,297.6 L686.7,297.5 L687.5,298.7 L688.3,300.0 L689.1,301.4 L689.9,302.1 L690.6,298.4 L691.4,300.2 L692.2,298.6 L693.0,300.8 L693.8,299.8 L694.6,298.7 L695.4,297.7 L696.2,298.8 L696.9,300.7 L697.7,303.1 L698.5,302.1 L699.3,298.9 L700.1,300.3 L700.9,301.4 L701.7,301.2 L702.4,301.7 L703.2,303.0 L704.0,302.1 L704.8,300.6 L705.6,298.5 L706.4,301.4 L707.2,299.2 L708.0,302.0 L708.8,303.0 L709.5,300.3 L710.3,302.6 L711.1,302.0 L711.9,306.5 L712.7,304.1 L713.5,300.2 L714.3,304.3 L715.1,304.3 L715.9,303.2 L716.6,302.9 L717.4,304.5 L718.2,304.6 L719.0,304.1 L719.8,301.5 L720.6,302.8 L721.4,300.4 L722.2,300.5 L723.0,302.1 L723.7,301.3 L724.5,302.4 L725.3,307.1 L726.1,304.2 L726.9,301.8 L727.7,300.0 L728.5,302.3 L729.3,301.5 L730.1,300.8 L730.9,306.1 L731.7,304.3 L732.5,306.3 L733.3,310.0 L734.1,306.8 L734.9,306.8 L735.7,307.4 L736.5,306.5 L737.3,305.5 L738.1,306.2 L738.9,310.4 L739.7,306.4 L740.5,304.3 L741.3,304.5 L742.0,303.3 L742.8,306.6 L743.6,307.4 L744.4,307.4 L745.2,308.7 L746.0,306.2 L746.8,308.1 L747.6,307.3 L748.4,308.1 L749.2,303.5 L750.0,309.3 L750.8,304.3 L751.6,305.2 L752.4,308.9 L753.2,306.9 L754.0,310.9 L754.8,308.1 L755.6,305.9 L756.4,308.1 L757.2,307.2 L758.0,310.8 L758.8,310.9 L759.6,310.3 L760.4,307.4 L761.1,308.4 L761.9,310.4 L762.7,307.2 L763.5,307.4 L764.3,310.6 L765.1,310.7 L765.9,308.8 L766.7,309.3 L767.5,306.4 L768.2,312.2 L769.0,309.9 L769.8,307.5 L770.6,308.1 L771.4,307.3 L772.2,313.1 L773.0,311.2 L773.8,307.5 L774.6,313.3 L775.3,312.4 L776.1,308.1 L776.9,306.4 L777.7,312.2 L778.5,309.5 L779.3,310.6 L780.1,310.2 L780.9,313.7 L781.7,314.4 L782.5,313.4 L783.3,311.9 L784.1,312.9 L784.8,313.7 L785.6,309.7 L786.4,316.7 L787.2,311.8 L788.0,313.3 L788.8,313.0 L789.6,314.3 L790.4,315.9 L791.2,319.1 L792.0,311.6 L792.8,310.4 L793.6,312.3 L794.4,310.8 L795.2,313.6 L796.0,310.6 L796.8,312.4 L797.6,314.1 L798.4,314.4 L799.2,313.1 L799.9,315.5 L800.7,315.5 L801.5,310.0 L802.3,314.0 L803.1,313.7 L803.9,312.8 L804.7,312.2 L805.5,313.5 L806.3,314.2 L807.1,314.0 L807.9,317.9 L808.7,315.4 L809.5,312.5 L810.3,312.3 L811.1,315.5 L811.9,312.8 L812.7,314.6 L813.5,315.5 L814.3,316.8 L815.0,316.1 L815.8,318.3 L816.6,315.0 L817.4,317.5 L818.2,315.3 L819.0,317.3 L819.8,317.4 L820.6,315.7 L821.4,313.5 L822.2,319.6 L823.0,318.5 L823.8,318.1 L824.6,316.5 L825.4,317.1 L826.2,318.6 L827.0,317.8 L827.8,319.9 L828.5,318.0 L829.3,316.2 L830.1,319.0 L830.9,315.9 L831.7,318.8 L832.5,314.6 L833.3,317.5 L834.1,319.4 L834.9,316.4 L835.7,318.5 L836.4,319.8 L837.2,319.0 L838.0,322.4 L838.8,318.3 L839.6,318.9 L840.4,319.1 L841.2,315.7 L841.9,316.6 L842.7,320.5 L843.5,318.8 L844.3,322.1 L845.1,319.3 L845.9,319.1 L846.7,321.5 L847.4,320.2 L848.2,322.9 L849.0,318.1 L849.8,321.2 L850.6,321.9 L851.4,322.0 L852.1,323.4 L852.9,323.4 L853.7,321.8 L854.5,320.8 L855.3,323.8 L856.1,322.1 L856.8,323.9 L857.6,324.6 L858.4,322.4 L859.2,320.3 L860.0,321.6 L860.8,323.6 L861.6,321.7 L862.3,324.6 L863.1,322.6 L863.9,323.0 L864.7,321.8 L865.5,323.2 L866.3,325.9 L867.1,323.5 L867.9,324.0 L868.6,323.5 L869.4,327.0 L870.2,322.8 L871.0,324.9 L871.8,328.2 L872.6,329.4 L873.4,326.3 L874.2,328.7 L875.0,322.9 L875.8,328.4 L876.6,327.5 L877.4,324.5 L878.2,323.4 L879.0,326.0 L879.7,328.1 L880.5,328.0 L881.3,327.8 L882.1,328.9 L882.9,328.8 L883.7,324.6 L884.5,326.6 L885.3,326.3 L886.1,329.3 L886.9,326.1 L887.7,329.0 L888.5,327.1 L889.3,333.9 L890.1,326.7 L890.9,326.8 L891.7,326.5 L892.5,327.0 L893.3,330.8 L894.0,325.7 L894.8,325.0 L895.6,326.5 L896.4,328.3 L897.2,325.0 L898.0,328.7 L898.8,329.9 L899.6,326.8 L900.4,327.0 L901.2,326.0 L902.0,327.3 L902.8,326.4 L903.6,330.8 L904.4,331.8 L905.1,328.2 L905.9,328.9 L906.7,325.4 L907.5,328.4 L908.3,330.3 L909.1,330.3 L909.9,330.1 L910.7,331.7 L911.5,330.2 L912.3,329.3 L913.0,333.3 L913.8,326.2 L914.6,327.8 L915.4,327.6 L916.2,328.7 L917.0,328.7 L917.8,330.0 L918.6,329.2 L919.4,330.8 L920.2,332.4 L921.0,331.6 L921.7,332.3 L922.5,330.5 L923.3,330.6 L924.1,332.7 L924.9,337.0 L925.7,334.9 L926.5,336.6 L927.3,336.7 L928.1,337.2 L928.9,333.5 L929.7,339.6 L930.4,337.0 L931.2,339.8 L932.0,336.9 L932.8,336.9 L933.6,335.5 L934.4,336.0 L935.2,332.2 L936.0,335.1 L936.8,335.4 L937.6,337.4 L938.4,333.9 L939.2,335.4 L940.0,338.8 L940.8,333.9 L941.6,336.7 L942.4,333.8 L943.2,334.7 L944.0,335.9 L944.7,336.7 L945.5,333.9 L946.3,332.8 L947.1,338.1 L947.9,335.3 L948.7,336.5 L949.5,336.7 L950.3,336.4 L951.1,334.3 L951.9,334.6 L952.7,331.7 L953.5,335.5 L954.3,333.7 L955.1,335.6 L955.9,339.8 L956.7,337.6 L957.5,336.5 L958.3,333.8 L959.1,338.4 L959.9,340.2 L960.7,335.4 L961.5,338.1 L962.3,336.3 L963.1,337.1 L963.9,336.7 L964.7,334.1 L965.5,336.4 L966.3,331.8 L967.0,340.4 L967.8,339.7 L968.6,337.5 L969.4,337.9 L970.2,337.5 L971.0,337.6 L971.8,337.4 L972.6,336.3 L973.4,336.4 L974.2,333.8 L975.0,334.4 L975.8,335.2 L976.6,336.9 L977.4,335.8 L978.2,340.7 L979.0,336.5 L979.8,336.5 L980.6,338.4 L981.4,340.0 L982.2,342.0 L983.0,340.4 L983.8,337.3 L984.6,338.4 L985.4,341.0 L986.2,339.4 L987.0,340.6 L987.8,338.8 L988.6,342.4 L989.4,342.1 L990.2,341.6 L990.9,339.6 L991.7,336.0 L992.5,336.7 L993.3,340.4 L994.1,341.2 L994.9,335.4 L995.7,339.1 L996.5,342.7 L997.3,342.4 L998.1,339.5 L998.9,342.1 L999.7,341.1 L1000.5,340.8 L1001.3,345.6 L1002.1,344.2 L1002.9,340.9 L1003.7,340.2 L1004.4,339.6 L1005.2,339.5 L1006.0,345.3 L1006.8,346.5 L1007.6,343.1 L1008.4,344.9 L1009.2,341.2 L1010.0,342.6 L1010.8,344.7 L1011.6,343.5 L1012.4,342.8 L1013.1,339.4 L1013.9,339.9 L1014.7,342.1 L1015.5,341.8 L1016.3,342.7 L1017.1,341.5 L1017.9,342.4 L1018.7,343.0 L1019.5,344.0 L1020.2,343.2 L1021.0,342.0 L1021.8,342.8 L1022.6,345.6 L1023.4,343.6 L1024.2,342.4 L1025.0,342.7 L1025.8,345.9 L1026.6,346.9 L1027.4,348.7 L1028.2,345.7 L1029.0,349.6 L1029.7,346.2 L1030.5,346.5 L1031.3,345.8 L1032.1,348.2 L1032.9,349.2 L1033.7,346.7 L1034.5,345.5 L1035.3,343.1 L1036.1,346.5 L1036.9,345.2 L1037.7,345.4 L1038.5,344.4 L1039.3,343.8 L1040.1,344.7 L1040.9,346.7 L1041.7,347.9 L1042.5,345.8 L1043.3,347.2 L1044.1,345.6 L1044.9,345.8 L1045.7,343.0 L1046.5,347.9 L1047.3,347.1 L1048.1,351.1 L1048.9,344.2 L1049.7,345.6 L1050.5,343.0 L1051.3,345.4 L1052.1,344.3 L1052.9,345.9 L1053.7,343.9 L1054.4,345.5 L1055.2,343.0 L1056.0,345.4 L1056.8,343.6 L1057.6,343.5 L1058.4,344.9 L1059.2,345.9 L1060.0,342.4 L1060.8,342.6 L1061.6,346.8 L1062.4,346.7 L1063.2,339.7 L1064.0,343.9 L1064.8,346.2 L1065.6,349.3 L1066.4,348.6 L1067.2,350.4 L1068.0,350.6 L1068.8,352.6 L1069.6,344.5 L1070.4,347.4 L1071.2,349.6 L1072.0,344.4 L1072.8,344.1 L1073.6,347.7 L1074.4,349.8 L1075.2,350.3 L1076.0,343.8 L1076.8,345.3 L1077.6,348.0 L1078.4,347.2 L1079.2,349.3 L1080.0,348.9 L1080.8,352.6 L1081.6,348.6 L1082.4,349.1 L1083.2,349.0 L1083.9,352.9 L1084.7,344.5 L1085.5,350.1 L1086.3,346.9 L1087.1,343.4 L1087.9,351.3 L1088.7,350.0 L1089.5,352.1 L1090.3,349.7 L1091.1,350.8 L1091.9,350.1 L1092.7,351.0 L1093.5,349.0 L1094.3,353.9 L1095.1,348.2 L1095.9,354.1 L1096.7,349.9 L1097.5,352.3 L1098.3,350.7 L1099.0,351.4 L1099.8,353.7 L1100.6,350.8 L1101.4,348.5 L1102.2,351.3 L1103.0,352.4 L1103.8,346.4 L1104.6,355.4 L1105.4,354.5 L1106.2,348.5 L1107.0,352.5 L1107.8,355.1 L1108.5,351.1 L1109.3,353.1 L1110.1,353.2 L1110.9,356.0 L1111.7,357.5 L1112.5,355.3 L1113.3,355.7 L1114.1,357.9 L1114.9,358.2 L1115.6,356.0 L1116.4,359.4 L1117.2,353.5 L1118.0,357.1 L1118.8,356.0 L1119.6,355.9 L1120.4,357.5 L1121.2,357.2 L1121.9,361.8 L1122.7,358.5 L1123.5,357.7 L1124.3,360.6 L1125.1,359.1 L1125.9,352.5 L1126.7,356.9 L1127.5,358.2 L1128.3,354.2 L1129.0,357.0 L1129.8,355.2 L1130.6,357.0 L1131.4,352.4 L1132.2,351.6 L1133.0,354.7 L1133.8,356.5 L1134.6,359.0 L1135.4,355.4 L1136.1,354.3 L1136.9,358.2 L1137.7,356.3 L1138.5,360.5 L1139.3,356.3 L1140.1,352.1 L1140.9,354.9 L1141.7,354.7 L1142.5,353.9 L1143.3,355.5 L1144.0,354.8 L1144.8,357.0 L1145.6,356.5 L1146.4,358.9 L1147.2,359.8 L1148.0,358.7 L1148.8,358.9 L1149.6,354.2 L1150.4,354.8 L1151.2,356.8 L1151.9,359.5 L1152.7,355.7 L1153.5,358.2 L1154.3,359.9 L1155.0,364.0" stroke="#00ced1" stroke-width="4.5"/>
<path class="curve" d="M344.9,227.8 L345.2,227.7 L345.4,227.7 L345.7,227.3 L346.0,226.5 L346.3,226.5 L346.6,225.6 L346.8,225.3 L347.1,224.5 L347.4,224.7 L347.7,224.1 L348.0,224.0 L348.3,223.5 L348.6,222.9 L348.9,222.5 L349.2,222.4 L349.5,221.6 L349.8,221.3 L350.1,220.9 L350.4,220.7 L350.7,220.4 L351.0,220.3 L351.4,219.3 L351.7,219.3 L352.0,218.3 L352.3,218.3 L352.6,217.8 L353.0,217.9 L353.3,217.2 L353.6,216.5 L353.9,216.4 L354.3,216.0 L354.6,215.4 L354.9,215.0 L355.3,214.4 L355.6,215.1 L356.0,214.0 L356.3,214.0 L356.6,212.9 L357.0,212.5 L357.3,212.5 L357.7,212.2 L358.0,212.2 L358.4,211.2 L358.7,211.4 L359.1,211.5 L359.4,210.2 L359.8,210.6 L360.1,209.6 L360.5,209.7 L360.8,209.4 L361.2,209.6 L361.6,208.4 L361.9,208.4 L362.3,208.4 L362.7,207.2 L363.0,207.3 L363.4,206.7 L363.8,206.4 L364.1,206.6 L364.5,206.3 L364.9,207.1 L365.2,205.9 L365.6,205.5 L366.0,204.5 L366.4,204.1 L366.8,204.0 L367.1,202.7 L367.5,204.0 L367.9,202.7 L368.3,202.2 L368.7,202.1 L369.0,202.4 L369.4,202.3 L369.8,201.3 L370.2,201.3 L370.6,200.8 L371.0,200.1 L371.4,200.3 L371.8,199.9 L372.1,198.9 L372.5,199.8 L372.9,198.2 L373.3,198.8 L373.7,197.8 L374.1,197.6 L374.5,197.4 L374.9,197.7 L375.3,196.4 L375.7,196.6 L376.1,197.2 L376.5,195.7 L376.9,195.8 L377.4,195.8 L377.8,194.9 L378.2,195.1 L378.6,194.2 L379.0,194.6 L379.4,194.0 L379.8,193.2 L380.3,194.1 L380.7,193.1 L381.1,192.7 L381.5,192.1 L381.9,192.0 L382.4,192.0 L382.8,191.8 L383.2,192.1 L383.6,190.5 L384.1,190.8 L384.5,191.4 L384.9,190.5 L385.4,190.4 L385.8,190.8 L386.2,189.9 L386.6,189.7 L387.1,189.1 L387.5,189.9 L387.9,189.2 L388.4,188.0 L388.8,188.4 L389.3,187.2 L389.7,188.3 L390.1,187.8 L390.6,187.1 L391.0,186.7 L391.5,185.6 L391.9,186.9 L392.3,186.2 L392.8,185.9 L393.2,186.3 L393.7,185.2 L394.1,185.1 L394.6,184.8 L395.0,184.2 L395.5,186.1 L396.0,184.5 L396.4,184.2 L396.9,184.8 L397.3,182.7 L397.8,183.8 L398.2,183.6 L398.7,182.8 L399.2,183.5 L399.6,181.7 L400.1,182.8 L400.5,183.1 L401.0,181.0 L401.5,181.2 L401.9,181.8 L402.4,181.7 L402.9,181.1 L403.3,181.5 L403.8,181.2 L404.2,180.0 L404.7,180.6 L405.2,179.6 L405.6,179.0 L406.1,178.8 L406.6,180.4 L407.0,179.5 L407.5,180.6 L407.9,178.3 L408.4,178.8 L408.9,179.0 L409.3,178.5 L409.8,178.8 L410.2,178.4 L410.7,177.7 L411.2,176.7 L411.6,177.1 L412.1,178.7 L412.6,177.9 L413.0,178.1 L413.5,176.7 L413.9,176.8 L414.4,176.1 L414.9,176.8 L415.3,176.4 L415.8,176.4 L416.3,177.1 L416.7,175.2 L417.2,176.0 L417.7,174.4 L418.1,175.9 L418.6,174.7 L419.1,174.7 L419.5,174.7 L420.0,175.5 L420.5,174.2 L420.9,173.7 L421.4,173.0 L421.8,173.8 L422.3,172.9 L422.8,172.9 L423.2,173.0 L423.7,173.3 L424.2,172.2 L424.6,172.9 L425.1,174.2 L425.6,170.5 L426.0,172.8 L426.5,173.2 L427.0,171.3 L427.4,171.9 L427.9,170.4 L428.3,171.4 L428.8,170.8 L429.3,171.0 L429.7,170.1 L430.2,170.0 L430.7,170.0 L431.1,169.7 L431.6,169.6 L432.0,169.7 L432.5,168.9 L433.0,169.3 L433.4,169.6 L433.9,167.8 L434.4,169.0 L434.8,168.2 L435.3,167.8 L435.8,167.4 L436.2,167.5 L436.7,167.4 L437.2,167.9 L437.6,166.7 L438.1,168.0 L438.6,166.2 L439.0,167.4 L439.5,167.5 L440.0,165.8 L440.5,167.2 L440.9,167.8 L441.4,165.9 L441.9,166.4 L442.3,165.8 L442.8,165.8 L443.3,165.5 L443.8,165.1 L444.2,165.8 L444.7,165.8 L445.2,165.1 L445.7,166.0 L446.2,165.7 L446.6,165.3 L447.1,164.2 L447.6,165.9 L448.1,165.4 L448.5,163.0 L449.0,163.6 L449.5,163.9 L450.0,164.8 L450.5,164.9 L450.9,163.6 L451.4,163.9 L451.9,164.1 L452.4,162.6 L452.9,163.8 L453.4,163.0 L453.8,163.2 L454.3,162.9 L454.8,161.9 L455.3,161.9 L455.8,162.5 L456.3,162.4 L456.7,162.0 L457.2,162.8 L457.7,161.7 L458.2,160.9 L458.7,161.4 L459.2,161.4 L459.7,161.3 L460.2,162.1 L460.7,161.6 L461.1,161.9 L461.6,161.5 L462.1,160.8 L462.6,161.6 L463.1,160.6 L463.6,160.9 L464.1,159.4 L464.6,160.6 L465.1,160.2 L465.6,160.6 L466.1,161.6 L466.6,161.7 L467.1,160.9 L467.6,160.0 L468.1,160.6 L468.6,160.0 L469.0,159.0 L469.5,159.6 L470.0,159.4 L470.5,159.0 L471.0,160.3 L471.5,158.8 L472.0,158.8 L472.5,159.5 L473.0,158.4 L473.5,158.0 L474.0,158.1 L474.5,159.0 L474.9,159.0 L475.4,158.6 L475.9,158.0 L476.4,157.6 L476.9,158.8 L477.4,157.0 L477.9,157.8 L478.4,156.9 L478.9,157.4 L479.3,157.5 L479.8,158.4 L480.3,155.8 L480.8,158.2 L481.3,156.5 L481.8,157.2 L482.3,157.4 L482.8,156.2 L483.2,156.5 L483.7,156.8 L484.2,156.2 L484.7,155.6 L485.2,156.1 L485.7,155.9 L486.2,154.7 L486.7,156.6 L487.1,155.6 L487.6,153.8 L488.1,154.6 L488.6,156.3 L489.1,156.1 L489.6,155.0 L490.1,153.5 L490.6,154.4 L491.1,155.3 L491.5,154.7 L492.0,154.2 L492.5,153.8 L493.0,154.9 L493.5,154.1 L494.0,154.4 L494.5,154.5 L495.0,155.3 L495.5,154.2 L495.9,154.2 L496.4,152.7 L496.9,154.7 L497.4,154.5 L497.9,153.8 L498.4,152.2 L498.9,153.2 L499.4,153.6 L499.9,154.9 L500.4,153.8 L500.9,153.8 L501.3,153.8 L501.8,154.0 L502.3,151.6 L502.8,152.2 L503.3,151.3 L503.8,152.4 L504.3,152.2 L504.8,152.4 L505.3,151.5 L505.8,152.2 L506.3,151.4 L506.8,153.4 L507.2,151.5 L507.7,153.3 L508.2,152.9 L508.7,150.7 L509.2,152.2 L509.7,151.9 L510.2,150.3 L510.7,151.8 L511.2,151.3 L511.7,151.5 L512.2,150.6 L512.7,151.1 L513.2,151.4 L513.7,150.9 L514.2,150.5 L514.6,150.8 L515.1,150.1 L515.6,151.2 L516.1,149.1 L516.6,151.7 L517.1,150.5 L517.6,150.7 L518.1,150.9 L518.6,149.3 L519.1,151.6 L519.6,149.2 L520.1,150.0 L520.6,149.9 L521.1,150.3 L521.6,149.6 L522.1,148.8 L522.6,149.6 L523.1,148.3 L523.6,149.2 L524.1,149.0 L524.6,150.0 L525.1,149.0 L525.5,148.8 L526.0,148.6 L526.5,148.5 L527.0,148.6 L527.5,149.2 L528.0,148.1 L528.5,148.6 L529.0,148.0 L529.5,148.5 L530.0,148.6 L530.5,147.9 L531.0,148.1 L531.5,148.4 L532.0,148.6 L532.5,148.6 L533.0,148.0 L533.5,147.5 L534.0,147.1 L534.5,148.2 L535.0,148.4 L535.5,147.8 L536.0,148.4 L536.5,147.1 L537.0,147.3 L537.5,148.2 L538.0,146.9 L538.5,147.6 L539.0,147.5 L539.5,147.3 L540.0,148.1 L540.5,146.8 L541.0,147.0 L541.5,146.1 L542.0,146.6 L542.5,146.8 L543.0,146.8 L543.5,146.9 L544.0,147.1 L544.5,146.6 L545.0,145.9 L545.4,146.9 L545.9,147.0 L546.4,146.2 L546.9,146.3 L547.4,147.6 L547.9,147.1 L548.4,147.5 L548.9,146.9 L549.4,146.6 L549.9,146.2 L550.4,146.7 L550.9,146.2 L551.4,146.0 L551.9,146.2 L552.4,146.1 L552.9,146.5 L553.4,145.5 L553.9,147.0 L554.4,145.4 L554.9,145.6 L555.4,146.2 L555.9,145.2 L556.4,145.3 L556.9,145.5 L557.4,144.4 L557.9,145.0 L558.4,144.9 L558.9,145.2 L559.4,145.5 L559.9,145.6 L560.4,146.0 L560.9,145.9 L561.4,146.0 L561.9,145.1 L562.3,145.6 L562.8,144.6 L563.3,145.0 L563.8,145.7 L564.3,145.3 L564.8,144.2 L565.3,144.6 L565.8,145.3 L566.3,145.1 L566.8,145.2 L567.3,143.7 L567.8,143.9 L568.3,144.4 L568.8,144.0 L569.3,144.4 L569.8,144.4 L570.3,144.5 L570.8,144.2 L571.3,144.5 L571.8,144.6 L572.3,144.3 L572.8,143.6 L573.3,145.3 L573.8,144.3 L574.3,144.4 L574.8,144.3 L575.3,143.3 L575.8,144.4 L576.3,143.5 L576.8,143.5 L577.3,144.7 L577.8,143.9 L578.3,144.1 L578.8,144.4 L579.3,144.7 L579.8,142.9 L580.3,143.4 L580.8,144.1 L581.3,143.3 L581.8,142.6 L582.3,143.6 L582.8,143.6 L583.3,143.8 L583.8,143.4 L584.3,143.0 L584.8,143.3 L585.3,143.1 L585.8,142.8 L586.3,143.1 L586.8,143.1 L587.3,142.4 L587.8,143.4 L588.3,143.2 L588.8,143.2 L589.3,141.7 L589.8,142.8 L590.3,142.6 L590.8,142.2 L591.3,142.9 L591.8,141.4 L592.3,143.3 L592.8,142.8 L593.3,142.4 L593.8,143.3 L594.3,142.9 L594.8,142.8 L595.3,142.0 L595.8,142.9 L596.3,143.3 L596.8,143.1 L597.3,141.9 L597.7,143.3 L598.2,143.4 L598.7,143.0 L599.2,142.3 L599.7,141.7 L600.2,142.0 L600.7,142.2 L601.2,142.6 L601.7,142.7 L602.2,142.0 L602.7,141.6 L603.2,142.2 L603.7,141.7 L604.2,143.0 L604.7,141.7 L605.2,142.6 L605.7,142.8 L606.2,141.8 L606.7,142.8 L607.2,142.2 L607.7,141.9 L608.2,141.8 L608.7,142.3 L609.2,142.7 L609.7,141.2 L610.2,142.4 L610.7,142.0 L611.2,141.7 L611.7,142.0 L612.2,142.0 L612.7,141.9 L613.2,142.4 L613.7,141.5 L614.2,142.9 L614.7,142.3 L615.2,141.6 L615.7,140.9 L616.2,141.9 L616.7,141.6 L617.2,142.2 L617.7,142.2 L618.2,142.8 L618.7,141.7 L619.2,142.1 L619.7,141.5 L620.2,141.4 L620.7,142.3 L621.2,141.4 L621.7,141.4 L622.2,141.2 L622.7,141.5 L623.2,141.5 L623.7,141.0 L624.2,140.5 L624.7,141.1 L625.2,140.5 L625.7,140.6 L626.2,140.9 L626.7,140.9 L627.2,139.6 L627.7,141.4 L628.2,140.9 L628.7,141.5 L629.2,141.5 L629.7,140.0 L630.2,140.1 L630.7,140.5 L631.2,140.8 L631.7,140.1 L632.2,140.2 L632.7,140.9 L633.2,139.9 L633.7,140.4 L634.2,140.9 L634.7,140.2 L635.2,140.7 L635.7,140.2 L636.2,139.4 L636.7,139.9 L637.2,140.1 L637.7,140.0 L638.2,140.1 L638.7,140.3 L639.2,140.2 L639.7,140.1 L640.2,139.6 L640.7,139.9 L641.2,139.8 L641.7,139.7 L642.2,140.6 L642.7,139.0 L643.2,140.0 L643.7,139.1 L644.2,139.6 L644.7,140.3 L645.2,139.7 L645.7,140.5 L646.2,139.3 L646.7,139.6 L647.2,139.4 L647.7,139.7 L648.2,139.5 L648.7,139.5 L649.2,139.6 L649.7,140.1 L650.1,139.6 L650.6,139.5 L651.1,139.2 L651.6,139.0 L652.1,138.5 L652.6,138.6 L653.1,139.1 L653.6,138.1 L654.1,139.3 L654.6,138.7 L655.1,138.3 L655.6,138.5 L656.1,139.0 L656.6,138.8 L657.1,138.7 L657.6,139.4 L658.1,139.7 L658.6,137.8 L659.1,138.9 L659.6,138.1 L660.1,137.7 L660.6,138.1 L661.1,138.9 L661.6,138.3 L662.1,138.0 L662.6,139.1 L663.1,138.7 L663.6,138.4 L664.1,140.0 L664.6,138.7 L665.1,138.1 L665.6,137.9 L666.1,138.2 L666.6,138.5 L667.1,138.9 L667.6,139.1 L668.1,138.4 L668.6,137.8 L669.1,138.8 L669.6,138.3 L670.1,137.7 L670.6,137.6 L671.1,138.2 L671.6,138.3 L672.1,138.5 L672.6,137.4 L673.1,138.9 L673.6,137.0 L674.1,137.8 L674.6,138.5 L675.1,138.3 L675.6,137.3 L676.1,138.0 L676.6,138.3 L677.1,138.3 L677.6,137.2 L678.1,138.5 L678.6,136.2 L679.1,137.6 L679.6,137.1 L680.1,137.4 L680.6,137.4 L681.1,137.9 L681.6,137.0 L682.1,137.7 L682.6,138.3 L683.1,137.7 L683.6,137.9 L684.1,137.8 L684.6,137.2 L685.1,137.4 L685.6,137.6 L686.1,137.8 L686.6,138.6 L687.1,138.4 L687.6,137.3 L688.1,137.3 L688.6,137.0 L689.1,135.8 L689.6,138.1 L690.1,137.7 L690.6,136.5 L691.1,137.4 L691.6,138.5 L692.1,137.6 L692.6,137.6 L693.1,137.4 L693.6,136.8 L694.1,136.6 L694.6,136.7 L695.1,137.2 L695.6,136.9 L696.1,137.4 L696.6,137.9 L697.1,137.2 L697.6,137.3 L698.1,136.7 L698.6,136.2 L699.1,137.9 L699.6,137.2 L700.1,137.4 L700.6,136.6 L701.1,136.0 L701.6,137.5 L702.1,135.8 L702.6,136.7 L703.1,136.6 L703.6,137.0 L704.1,137.3 L704.6,137.3 L705.1,135.9 L705.6,137.4 L706.1,136.0 L706.6,137.3 L707.1,136.7 L707.6,136.4 L708.1,136.7 L708.6,136.3 L709.1,137.0 L709.6,137.5 L710.1,137.4 L710.6,137.0 L711.1,137.9 L711.6,137.2 L712.1,138.0 L712.6,137.2 L713.1,136.6 L713.6,136.7 L714.1,136.5 L714.6,136.7 L715.1,136.8 L715.6,137.1 L716.1,137.2 L716.6,136.8 L717.1,136.9 L717.6,136.3 L718.1,136.4 L718.6,135.6 L719.1,136.2 L719.6,136.3 L720.1,138.4 L720.6,135.9 L721.1,136.6 L721.6,136.4 L722.1,135.8 L722.6,136.7 L723.1,136.6 L723.6,135.8 L724.1,135.6 L724.6,136.6 L725.1,135.9 L725.6,137.0 L726.1,136.5 L726.6,137.1 L727.1,136.5 L727.6,137.4 L728.1,137.0 L728.6,137.4 L729.1,136.7 L729.6,136.1 L730.1,135.9 L730.6,136.3 L731.1,136.7 L731.6,136.2 L732.1,137.6 L732.6,136.5 L733.1,136.7 L733.6,136.5 L734.1,135.8 L734.6,137.0 L735.1,136.8 L735.6,136.9 L736.1,135.9 L736.6,136.4 L737.1,136.4 L737.6,137.4 L738.1,135.7 L738.6,136.7 L739.1,137.0 L739.6,136.2 L740.1,136.0 L740.6,137.1 L741.1,136.5 L741.6,137.0 L742.1,136.8 L742.6,136.9 L743.1,136.3 L743.6,135.3 L744.1,136.7 L744.6,136.0 L745.1,136.7 L745.6,136.1 L746.1,137.1 L746.6,136.2 L747.1,136.7 L747.6,136.8 L748.1,136.2 L748.6,136.4 L749.1,136.2 L749.6,135.7 L750.1,136.9 L750.6,135.3 L751.1,135.2 L751.6,135.7 L752.1,136.0 L752.6,136.0 L753.1,135.7 L753.6,135.6 L754.1,134.8 L754.6,136.1 L755.1,136.7 L755.6,135.4 L756.1,134.8 L756.6,136.1 L757.1,135.6 L757.6,134.6 L758.1,135.2 L758.6,134.8 L759.1,134.9 L759.6,136.5 L760.1,135.9 L760.6,135.3 L761.1,135.3 L761.6,136.1 L762.1,134.7 L762.6,135.6 L763.1,134.8 L763.6,135.6 L764.1,135.2 L764.6,134.5 L765.1,135.7 L765.6,135.4 L766.1,136.0 L766.6,134.9 L767.1,135.2 L767.6,134.7 L768.1,135.7 L768.6,134.7 L769.1,135.1 L769.6,135.8 L770.1,135.4 L770.6,135.2 L771.1,135.2 L771.6,135.2 L772.1,135.4 L772.6,134.9 L773.1,134.0 L773.6,135.7 L774.1,134.5 L774.6,136.0 L775.1,135.3 L775.6,136.1 L776.1,135.7 L776.6,135.3 L777.1,135.9 L777.6,134.4 L778.1,135.2 L778.6,134.9 L779.1,135.1 L779.6,134.1 L780.1,134.1 L780.6,135.5 L781.1,135.2 L781.6,134.9 L782.1,135.1 L782.6,134.8 L783.1,134.9 L783.6,135.5 L784.1,135.0 L784.6,135.5 L785.1,134.7 L785.6,134.1 L786.1,134.7 L786.6,135.0 L787.1,134.5 L787.6,134.8 L788.1,134.7 L788.6,135.5 L789.1,135.4 L789.6,135.5 L790.1,134.6 L790.6,135.1 L791.1,135.6 L791.6,135.0 L792.1,134.9 L792.6,134.5 L793.1,135.3 L793.6,135.0 L794.1,135.4 L794.6,134.8 L795.1,135.9 L795.6,134.8 L796.1,134.1 L796.6,134.9 L797.1,135.0 L797.6,135.4 L798.1,134.4 L798.6,134.4 L799.1,134.5 L799.6,134.4 L800.1,133.5 L800.6,134.9 L801.1,135.2 L801.6,134.1 L802.1,134.0 L802.6,134.4 L803.1,134.1 L803.6,134.9 L804.1,134.1 L804.6,134.8 L805.1,133.8 L805.6,133.7 L806.1,133.6 L806.6,133.7 L807.1,134.6 L807.6,134.8 L808.1,134.4 L808.6,134.5 L809.1,133.3 L809.6,134.9 L810.1,133.7 L810.6,135.0 L811.1,135.4 L811.6,134.4 L812.1,134.6 L812.6,134.6 L813.1,133.6 L813.6,133.7 L814.1,133.9 L814.6,134.4 L815.1,134.7 L815.6,134.3 L816.1,134.8 L816.6,133.8 L817.1,133.5 L817.6,134.2 L818.1,134.1 L818.6,133.4 L819.1,134.6 L819.6,133.6 L820.1,133.7 L820.6,134.2 L821.1,133.5 L821.6,134.3 L822.1,134.2 L822.6,134.2 L823.1,134.0 L823.6,133.7 L824.1,133.6 L824.6,134.1 L825.1,134.7 L825.6,134.4 L826.1,134.2 L826.6,134.5 L827.1,134.7 L827.6,133.3 L828.1,133.9 L828.6,134.6 L829.1,133.6 L829.6,133.7 L830.1,134.2 L830.6,133.7 L831.1,134.5 L831.6,133.7 L832.1,134.1 L832.6,134.8 L833.1,134.4 L833.6,133.1 L834.1,133.2 L834.6,133.3 L835.1,133.8 L835.6,133.1 L836.1,134.1 L836.6,134.7 L837.1,134.6 L837.6,133.4 L838.1,133.7 L838.6,133.7 L839.1,133.2 L839.6,135.4 L840.1,133.6 L840.6,133.4 L841.1,134.1 L841.6,134.1 L842.1,134.7 L842.6,134.7 L843.1,133.8 L843.6,132.9 L844.1,134.3 L844.6,134.3 L845.1,134.8 L845.6,133.0 L846.1,133.2 L846.6,134.6 L847.1,134.6 L847.6,134.4 L848.1,133.7 L848.6,134.4 L849.1,133.4 L849.6,133.0 L850.1,133.6 L850.6,133.7 L851.1,134.0 L851.6,134.1 L852.1,132.7 L852.6,133.8 L853.1,133.8 L853.6,132.9 L854.1,133.4 L854.6,133.6 L855.1,133.8 L855.6,133.1 L856.1,133.3 L856.6,133.0 L857.1,133.8 L857.6,133.5 L858.1,133.3 L858.6,134.0 L859.1,133.6 L859.6,133.0 L860.1,134.2 L860.6,134.2 L861.1,133.9 L861.6,133.1 L862.1,134.2 L862.6,133.4 L863.1,132.7 L863.6,133.6 L864.1,134.6 L864.6,133.4 L865.1,134.0 L865.6,134.4 L866.1,133.8 L866.6,133.5 L867.1,133.7 L867.6,134.0 L868.1,133.4 L868.6,133.8 L869.1,133.9 L869.6,133.5 L870.0,134.0 L870.5,133.9 L871.0,133.5 L871.5,133.5 L872.0,133.6 L872.5,133.5 L873.0,133.4 L873.5,133.0 L874.0,133.5 L874.5,133.8 L875.0,133.7 L875.5,133.0 L876.0,133.6 L876.5,133.6 L877.0,132.8 L877.5,133.5 L878.0,133.2 L878.5,133.0 L879.0,133.3 L879.5,133.1 L880.0,132.1 L880.5,133.2 L881.0,132.5 L881.5,133.0 L882.0,133.4 L882.5,132.9 L883.0,132.8 L883.5,133.1 L884.0,133.3 L884.5,132.6 L885.0,132.7 L885.5,133.3 L886.0,133.8 L886.5,133.0 L887.0,133.7 L887.5,132.6 L888.0,133.0 L888.5,133.1 L889.0,132.4 L889.5,133.0 L890.0,132.9 L890.5,132.0 L891.0,133.0 L891.5,133.2 L892.0,133.1 L892.5,133.2 L893.0,132.4 L893.5,132.6 L894.0,132.8 L894.5,132.5 L895.0,132.7 L895.5,133.5 L896.0,132.4 L896.5,132.7 L897.0,133.7 L897.5,132.7 L898.0,132.3 L898.5,132.9 L899.0,132.9 L899.5,132.9 L900.0,132.0 L900.5,133.0 L901.0,133.0 L901.5,133.8 L902.0,133.1 L902.5,132.6 L903.0,133.0 L903.5,133.1 L904.0,132.7 L904.5,132.8 L905.0,133.5 L905.5,133.0 L906.0,133.0 L906.5,132.3 L907.0,133.0 L907.5,131.8 L908.0,133.4 L908.5,132.5 L909.0,133.0 L909.5,133.4 L910.0,132.1 L910.5,133.2 L911.0,132.7 L911.5,133.2 L912.0,132.4 L912.5,132.2 L913.0,133.2 L913.5,132.7 L914.0,132.5 L914.5,131.9 L915.0,133.1 L915.5,132.3 L916.0,132.3 L916.5,132.1 L917.0,132.5 L917.5,132.8 L918.0,132.5 L918.5,132.5 L919.0,132.3 L919.5,133.3 L920.0,133.4 L920.5,132.3 L921.0,132.1 L921.5,132.7 L922.0,131.8 L922.5,132.7 L923.0,132.8 L923.5,132.6 L924.0,133.3 L924.5,133.4 L925.0,132.7 L925.5,132.3 L926.0,133.0 L926.5,133.0 L927.0,131.8 L927.5,132.0 L928.0,132.3 L928.5,131.6 L929.0,131.8 L929.5,133.1 L930.0,131.7 L930.5,132.7 L931.0,131.9 L931.5,132.7 L932.0,132.5 L932.5,132.7 L933.0,131.5 L933.5,132.3 L934.0,131.7 L934.5,132.6 L935.0,132.6 L935.5,132.3 L936.0,132.2 L936.5,132.2 L937.0,132.4 L937.5,131.9 L938.0,132.1 L938.5,131.8 L939.0,131.8 L939.5,132.9 L940.0,131.7 L940.5,133.0 L941.0,132.7 L941.5,131.5 L942.0,131.5 L942.5,132.4 L943.0,131.8 L943.5,132.4 L944.0,132.8 L944.5,132.5 L945.0,132.2 L945.5,132.2 L946.0,133.0 L946.5,132.1 L947.0,133.1 L947.5,133.3 L948.0,132.1 L948.5,132.4 L949.0,133.8 L949.5,132.0 L950.0,132.5 L950.5,132.9 L951.0,131.8 L951.5,132.5 L952.0,132.4 L952.5,132.1 L953.0,133.6 L953.5,132.2 L954.0,133.3 L954.5,132.6 L955.0,131.9 L955.5,132.4 L956.0,131.8 L956.5,132.5 L957.0,132.4 L957.5,131.5 L958.0,131.9 L958.5,132.3 L959.0,132.1 L959.5,131.6 L960.0,132.6 L960.5,132.7 L961.0,131.3 L961.5,133.4 L962.0,131.1 L962.5,132.1 L963.0,131.8 L963.5,131.9 L964.0,132.3 L964.5,131.6 L965.0,132.2 L965.5,133.1 L966.0,132.5 L966.5,133.0 L967.0,132.7 L967.5,131.4 L968.0,133.1 L968.5,133.0 L969.0,132.5 L969.5,132.0 L970.0,131.9 L970.5,131.7 L971.0,132.1 L971.5,132.2 L972.0,132.0 L972.5,132.0 L973.0,131.1 L973.5,131.7 L974.0,131.6 L974.5,132.1 L975.0,131.8 L975.5,131.7 L976.0,132.0 L976.5,131.6 L977.0,131.7 L977.5,132.3 L978.0,131.7 L978.5,131.3 L979.0,132.0 L979.5,132.1 L980.0,132.0 L980.5,131.0 L981.0,132.1 L981.5,131.7 L982.0,131.7 L982.5,131.7 L983.0,131.9 L983.5,131.9 L984.0,132.4 L984.5,131.8 L985.0,131.7 L985.5,132.0 L986.0,131.7 L986.5,132.3 L987.0,131.8 L987.5,132.1 L988.0,131.5 L988.5,132.2 L989.0,132.1 L989.5,131.4 L990.0,131.6 L990.5,131.8 L991.0,131.1 L991.5,131.3 L992.0,132.0 L992.5,132.0 L993.0,132.4 L993.5,131.1 L994.0,131.6 L994.5,130.8 L995.0,132.6 L995.5,131.1 L996.0,131.5 L996.5,132.6 L997.0,132.3 L997.5,131.1 L998.0,132.5 L998.5,131.9 L999.0,130.9 L999.5,131.5 L1000.0,131.7 L1000.5,131.6 L1001.0,130.3 L1001.5,132.2 L1002.0,130.5 L1002.5,131.2 L1003.0,132.0 L1003.5,131.5 L1004.0,131.3 L1004.5,131.0 L1005.0,131.6 L1005.5,132.0 L1006.0,131.1 L1006.5,131.6 L1007.0,131.2 L1007.5,131.2 L1008.0,130.5 L1008.5,131.6 L1009.0,131.9 L1009.5,131.4 L1010.0,132.0 L1010.5,131.6 L1011.0,132.1 L1011.5,131.5 L1012.0,131.3 L1012.5,131.2 L1013.0,131.5 L1013.5,131.5 L1014.0,131.0 L1014.5,131.3 L1015.0,130.7 L1015.5,130.7 L1016.0,131.6 L1016.5,131.4 L1017.0,131.7 L1017.5,131.3 L1018.0,131.3 L1018.5,132.0 L1019.0,130.7 L1019.5,131.2 L1020.0,131.7 L1020.5,131.9 L1021.0,131.2 L1021.5,130.8 L1022.0,130.3 L1022.5,130.7 L1023.0,130.8 L1023.5,130.6 L1024.0,130.8 L1024.5,130.8 L1025.0,130.2 L1025.5,130.1 L1026.0,130.4 L1026.5,130.7 L1027.0,131.3 L1027.5,129.7 L1028.0,131.0 L1028.5,130.4 L1029.0,131.1 L1029.5,131.5 L1030.0,130.9 L1030.5,130.1 L1031.0,130.5 L1031.5,131.0 L1032.0,130.7 L1032.5,130.9 L1033.0,130.6 L1033.5,130.8 L1034.0,130.7 L1034.5,131.5 L1035.0,131.3 L1035.5,131.5 L1036.0,130.4 L1036.5,131.0 L1037.0,130.6 L1037.5,131.0 L1038.0,130.5 L1038.5,130.6 L1039.0,131.9 L1039.5,131.0 L1040.0,130.5 L1040.5,131.0 L1041.0,132.1 L1041.5,131.4 L1042.0,130.6 L1042.5,130.9 L1043.0,130.9 L1043.5,131.0 L1044.0,130.1 L1044.5,130.5 L1045.0,130.8 L1045.5,130.1 L1046.0,130.8 L1046.5,130.9 L1047.0,131.2 L1047.5,131.3 L1048.0,130.7 L1048.5,130.9 L1049.0,131.1 L1049.5,131.6 L1050.0,130.8 L1050.5,130.4 L1051.0,131.2 L1051.5,131.4 L1052.0,130.8 L1052.5,131.0 L1053.0,131.4 L1053.5,130.4 L1054.0,130.3 L1054.5,130.1 L1055.0,130.8 L1055.5,131.1 L1056.0,130.4 L1056.5,131.5 L1057.0,130.4 L1057.5,130.8 L1058.0,130.6 L1058.5,131.3 L1059.0,130.4 L1059.5,131.5 L1060.0,130.6 L1060.5,130.1 L1061.0,130.5 L1061.5,130.7 L1062.0,131.6 L1062.5,130.5 L1063.0,130.8 L1063.5,131.8 L1064.0,130.9 L1064.5,130.5 L1065.0,130.5 L1065.5,130.1 L1066.0,131.0 L1066.5,131.8 L1067.0,130.6 L1067.5,130.3 L1068.0,130.9 L1068.5,130.8 L1069.0,130.7 L1069.5,131.0 L1070.0,130.8 L1070.5,130.6 L1071.0,131.6 L1071.5,129.9 L1072.0,130.3 L1072.5,130.6 L1073.0,130.2 L1073.5,131.6 L1074.0,129.8 L1074.5,131.2 L1075.0,131.1 L1075.5,131.0 L1076.0,131.1 L1076.5,130.6 L1077.0,130.6 L1077.5,131.6 L1078.0,130.9 L1078.5,130.2 L1079.0,129.9 L1079.5,130.2 L1080.0,131.0 L1080.5,131.4 L1081.0,130.7 L1081.5,130.9 L1082.0,130.6 L1082.5,131.2 L1083.0,131.2 L1083.5,131.2 L1084.0,131.6 L1084.5,130.1 L1085.0,131.0 L1085.5,129.4 L1086.0,131.0 L1086.5,131.0 L1087.0,131.0 L1087.5,131.0 L1088.0,130.6 L1088.5,130.3 L1089.0,131.0 L1089.5,130.4 L1090.0,131.0 L1090.5,130.3 L1091.0,131.0 L1091.5,130.9 L1092.0,130.3 L1092.5,130.6 L1093.0,131.2 L1093.5,130.8 L1094.0,131.1 L1094.5,130.6 L1095.0,130.9 L1095.5,130.1 L1096.0,130.5 L1096.5,131.4 L1097.0,131.1 L1097.5,130.9 L1098.0,130.9 L1098.5,130.2 L1099.0,131.0 L1099.5,129.9 L1100.0,130.3 L1100.5,131.1 L1101.0,130.5 L1101.5,130.5 L1102.0,130.7 L1102.5,130.8 L1103.0,131.4 L1103.5,129.4 L1104.0,130.5 L1104.5,131.0 L1105.0,130.5 L1105.5,130.5 L1106.0,130.3 L1106.5,130.5 L1107.0,131.2 L1107.5,131.3 L1108.0,130.8 L1108.5,131.3 L1109.0,130.7 L1109.5,129.9 L1110.0,131.0 L1110.5,129.7 L1111.0,130.6 L1111.5,130.7 L1112.0,130.1 L1112.5,130.6 L1113.0,130.4 L1113.5,130.7 L1114.0,130.5 L1114.5,131.0 L1115.0,130.5 L1115.5,131.0 L1116.0,130.7 L1116.5,130.8 L1117.0,130.8 L1117.5,130.5 L1118.0,131.7 L1118.5,131.0 L1119.0,129.7 L1119.5,130.2 L1120.0,131.6 L1120.5,130.6 L1121.0,131.8 L1121.5,130.9 L1122.0,130.9 L1122.5,130.5 L1123.0,130.6 L1123.5,130.8 L1124.0,131.4 L1124.5,130.7 L1125.0,130.6 L1125.5,130.1 L1126.0,130.3 L1126.5,130.3 L1127.0,130.5 L1127.5,130.2 L1128.0,129.6 L1128.5,130.4 L1129.0,129.5 L1129.5,129.8 L1130.0,130.1 L1130.5,130.7 L1131.0,130.1 L1131.5,130.0 L1132.0,130.8 L1132.5,130.4 L1133.0,131.1 L1133.5,130.4 L1134.0,130.1 L1134.5,130.3 L1135.0,131.3 L1135.5,131.2 L1136.0,130.6 L1136.5,131.0 L1137.0,129.8 L1137.5,131.1 L1138.0,130.7 L1138.5,130.5 L1139.0,130.6 L1139.5,130.7 L1140.0,130.4 L1140.5,130.4 L1141.0,130.0 L1141.5,131.4 L1142.0,130.2 L1142.5,130.6 L1143.0,131.2 L1143.5,131.3 L1144.0,131.4 L1144.5,130.5 L1145.0,130.6 L1145.5,130.7 L1146.0,129.9 L1146.5,131.2 L1147.0,130.0 L1147.5,130.7 L1148.0,131.2 L1148.5,131.2 L1149.0,130.6 L1149.5,131.3 L1150.0,131.4 L1150.5,130.1 L1151.0,130.8 L1151.5,131.2 L1152.0,131.1 L1152.5,130.8 L1153.0,130.9 L1153.5,132.1 L1154.0,130.8 L1154.5,131.5 L1155.0,130.4" stroke="#000000" stroke-width="3.7"/>
<path class="curve" d="M164.0,514.5 L164.0,513.5 L164.0,512.4 L164.0,511.4 L164.0,510.4 L164.0,509.4 L164.0,508.4 L164.0,507.4 L164.0,506.4 L164.0,505.4 L164.0,504.5 L164.0,503.5 L164.0,502.5 L163.7,501.6 L163.3,500.6 L162.7,499.7 L162.3,498.8 L161.9,497.8 L161.8,496.9 L162.0,496.0 L162.5,495.1 L163.1,494.1 L163.7,493.2 L164.0,492.3 L163.9,491.4 L163.5,490.5 L163.0,489.6 L162.4,488.6 L161.9,487.7 L161.8,486.8 L162.2,486.0 L162.9,485.1 L163.6,484.3 L164.1,483.4 L164.2,482.5 L164.3,481.6 L164.3,480.6 L164.3,479.6 L164.3,478.6 L164.4,477.6 L164.4,476.6 L164.4,475.6 L164.4,474.6 L164.4,473.5 L164.4,472.5 L164.5,471.5 L164.5,470.5 L164.5,469.5 L164.6,468.5 L164.7,467.5 L164.7,466.5 L164.9,465.5 L165.0,464.5 L165.1,463.5 L165.2,462.5 L165.4,461.5 L165.5,460.5 L165.7,459.5 L165.9,458.6 L166.0,457.6 L166.2,456.6 L166.3,455.6 L166.5,454.6 L166.7,453.6 L166.9,452.7 L167.2,451.7 L167.4,450.7 L167.6,449.7 L167.9,448.8 L168.1,447.8 L168.3,446.8 L168.5,445.8 L168.8,444.9 L169.0,443.9 L169.3,442.9 L169.5,441.9 L169.8,441.0 L170.0,440.0 L170.2,439.0 L170.4,438.0 L170.5,437.1 L170.6,436.1 L170.6,435.1 L170.7,434.1 L170.8,433.1 L170.8,432.1 L170.9,431.1 L170.9,430.1 L171.0,429.1 L171.0,428.1 L171.0,427.1 L171.1,426.1 L171.1,425.1 L171.2,424.1 L171.2,423.1 L171.2,422.1 L171.3,421.1 L171.3,420.1 L171.3,419.1 L171.4,418.1 L171.4,417.1 L171.4,416.1 L171.5,415.1 L171.5,414.1 L171.5,413.1 L171.5,412.1 L171.6,411.1 L171.6,410.1 L171.6,409.1 L171.6,408.1 L171.7,407.1 L171.7,406.1 L171.7,405.1 L171.8,404.1 L171.8,403.1 L171.8,402.1 L171.9,401.1 L171.9,400.1 L172.0,399.1 L172.0,398.1 L172.1,397.1 L172.2,396.1 L172.3,395.1 L172.4,394.1 L172.5,393.1 L172.6,392.1 L172.8,391.1 L172.9,390.1 L173.0,389.1 L173.2,388.2 L173.3,387.2 L173.5,386.2 L173.6,385.2 L173.8,384.2 L173.9,383.2 L174.1,382.2 L174.3,381.2 L174.5,380.3 L174.7,379.3 L174.8,378.3 L175.0,377.3 L175.2,376.3 L175.4,375.3 L175.6,374.3 L175.8,373.4 L176.0,372.4 L176.2,371.4 L176.5,370.4 L176.7,369.5 L177.0,368.5 L177.4,367.6 L177.8,366.7 L178.3,365.8 L178.8,364.9 L179.1,364.0 L179.3,363.0 L179.5,362.1 L179.7,361.1 L179.9,360.2 L180.1,359.2 L180.3,358.2 L180.4,357.2 L180.6,356.2 L180.7,355.2 L180.8,354.2 L180.9,353.2 L180.9,352.2 L181.0,351.2 L181.0,350.1 L181.0,350.1 L184.0,349.1 L184.8,354.5 L185.6,357.5 L186.4,350.5 L187.2,345.0 L188.0,341.9 L188.8,341.5 L189.6,339.7 L190.4,339.8 L191.2,337.8 L192.0,340.7 L192.8,339.6 L193.6,340.3 L194.4,339.9 L195.2,340.0 L196.0,341.4 L196.8,342.5 L197.6,342.5 L198.4,342.6 L199.2,342.5 L200.0,340.4 L200.8,339.1 L201.6,344.1 L202.4,348.7 L203.2,353.2 L204.0,354.0 L204.8,349.8 L205.6,344.8 L206.4,340.6 L207.2,338.8 L208.0,336.5 L208.8,334.5 L209.6,337.9 L210.4,342.6 L211.2,346.0 L212.0,348.3 L212.8,352.0 L213.6,349.9 L214.4,343.3 L215.2,337.2 L216.0,337.5 L216.8,341.5 L217.6,346.4 L218.4,345.8 L219.2,342.8 L220.0,339.1 L220.8,336.3 L221.6,340.4 L222.4,343.2 L223.2,344.4 L224.0,345.1 L224.8,343.7 L225.6,342.5 L226.4,341.3 L227.2,341.0 L228.0,341.4 L228.8,345.2 L229.6,347.4 L230.4,347.7 L231.2,351.4 L232.0,350.3 L232.8,350.5 L233.6,348.9 L234.4,348.7 L235.2,348.3 L236.0,346.1 L236.8,346.1 L237.6,344.4 L238.4,343.6 L239.2,341.7 L240.0,343.2 L240.8,343.1 L241.6,342.8 L242.4,343.7 L243.2,344.4 L244.0,345.1 L244.8,342.7 L245.6,345.5 L246.4,346.5 L247.2,347.4 L248.0,348.0 L248.8,351.4 L249.6,351.1 L250.4,354.3 L251.2,356.6 L252.0,353.8 L252.8,350.5 L253.6,345.3 L254.4,343.5 L255.2,345.3 L256.0,346.5 L256.8,344.3 L257.6,346.0 L258.4,347.0 L259.2,344.8 L260.0,340.9 L260.8,337.1 L261.6,338.0 L262.4,341.3 L263.2,344.8 L264.0,347.9 L264.8,346.9 L265.6,342.4 L266.4,337.7 L267.2,333.2 L268.0,335.0 L268.8,338.9 L269.6,343.4 L270.4,344.6 L271.2,341.8 L272.0,342.2 L272.8,339.7 L273.6,339.2 L274.4,336.6 L275.2,335.6 L276.0,334.1 L276.8,336.1 L277.6,337.1 L278.4,334.4 L279.2,334.6 L280.0,335.6 L280.8,334.4 L285.3,326.9 L285.6,326.6 L285.8,326.9 L286.1,326.1 L286.3,324.7 L286.6,324.9 L286.8,324.2 L287.1,324.1 L287.3,322.9 L287.6,323.3 L287.9,322.8 L288.1,322.9 L288.4,322.0 L288.7,321.6 L288.9,320.3 L289.2,321.4 L289.5,319.3 L289.7,320.1 L290.0,319.0 L290.3,318.4 L290.5,317.9 L290.8,317.6 L291.1,317.7 L291.4,317.1 L291.6,317.4 L291.9,315.4 L292.2,315.9 L292.5,315.0 L292.8,315.4 L293.1,313.5 L293.4,314.1 L293.7,313.9 L294.0,312.6 L294.3,313.6 L294.6,312.7 L294.9,312.8 L295.2,312.4 L295.5,310.9 L295.8,310.6 L296.1,310.5 L296.4,310.6 L296.7,310.3 L297.0,309.1 L297.3,308.7 L297.6,308.2 L297.9,307.9 L298.2,307.7 L298.4,307.4 L298.7,308.0 L299.0,306.4 L299.3,306.1 L299.5,305.9 L299.8,305.0 L300.0,304.8 L300.3,304.5 L300.5,304.3 L300.7,303.2 L300.9,303.6 L301.2,302.6 L301.4,302.3 L301.6,302.0 L301.8,301.5 L302.0,301.1 L302.2,300.4 L302.4,299.9 L302.6,299.6 L302.8,298.8 L303.0,298.9 L303.2,298.0 L303.4,297.4 L303.6,297.7 L303.8,296.7 L304.0,296.1 L304.2,296.5 L304.4,295.3 L304.6,295.2 L304.8,294.3 L305.0,293.9 L305.1,293.2 L305.3,292.7 L305.5,292.5 L305.7,292.2 L305.9,291.9 L306.1,291.8 L306.3,290.6 L306.5,290.6 L306.7,289.8 L306.9,289.4 L307.2,288.6 L307.4,288.2 L307.6,287.9 L307.8,287.3 L308.0,287.2 L308.3,286.6 L308.5,286.8 L308.7,286.0 L309.0,285.6 L309.2,285.5 L309.5,284.8 L309.7,284.2 L310.0,283.7 L310.2,283.3 L310.5,283.4 L310.8,282.9 L311.0,282.3 L311.3,282.0 L311.6,281.0 L311.8,281.1 L312.1,279.4 L312.4,280.6 L312.7,279.6 L312.9,279.3 L313.2,279.0 L313.5,278.3 L313.8,277.8 L314.0,278.0 L314.3,277.1 L314.6,276.2 L314.9,276.4 L315.1,275.0 L315.4,276.6 L315.7,274.8 L316.0,274.4 L316.2,274.9 L316.5,274.4 L316.8,273.1 L317.0,272.9 L317.3,272.6 L317.6,272.4 L317.8,271.2 L318.1,270.9 L318.4,271.0 L318.6,270.1 L318.9,269.9 L319.1,269.4 L319.4,268.3 L319.7,268.0 L319.9,267.0 L320.2,267.4 L320.5,267.7 L320.7,266.2 L321.0,266.8 L321.3,266.3 L321.5,265.5 L321.8,265.1 L322.1,264.7 L322.3,264.0 L322.6,263.8 L322.9,263.5 L323.1,263.4 L323.4,263.1 L323.6,262.0 L323.9,262.3 L324.2,261.2 L324.4,261.1 L324.7,260.9 L325.0,260.4 L325.2,259.9 L325.5,259.7 L325.8,258.9 L326.0,258.5 L326.3,258.2 L326.6,258.3 L326.8,257.4 L327.1,257.8 L327.4,256.7 L327.6,255.3 L327.9,255.5 L328.1,256.0 L328.4,254.8 L328.7,254.2 L328.9,253.6 L329.2,254.1 L329.5,253.5 L329.7,252.9 L330.0,252.4 L330.3,252.4 L330.5,251.7 L330.8,250.4 L331.1,250.8 L331.3,250.1 L331.6,249.6 L331.9,249.5 L332.1,248.8 L332.4,247.4 L332.6,248.6 L332.9,247.9 L333.2,247.0 L333.4,246.5 L333.7,246.3 L334.0,245.3 L334.2,245.6 L334.5,244.9 L334.8,244.5 L335.0,243.8 L335.3,243.5 L335.6,243.8 L335.8,243.5 L336.1,242.8 L336.3,242.1 L336.6,241.4 L336.9,241.6 L337.1,241.6 L337.4,239.8 L337.7,240.6 L337.9,238.8 L338.2,239.0 L338.5,239.0 L338.7,237.8 L339.0,237.4 L339.3,237.7 L339.5,237.5 L339.8,236.5 L340.1,236.4 L340.3,235.5 L340.6,235.6 L340.9,234.8 L341.1,234.4 L341.4,234.1 L341.7,233.6 L341.9,233.5 L342.2,233.1 L342.5,232.3 L342.7,231.8 L343.0,230.9 L343.3,230.8 L343.6,230.5 L343.8,230.0 L344.1,229.6 L344.4,229.2 L344.6,228.9 L344.9,227.8" stroke="#000000" stroke-width="4.5"/>
<path class="curve" d="M161.3,311.0 L161.3,310.3 L161.3,309.6 L161.3,308.9 L161.3,308.2 L161.3,307.5 L161.3,306.8 L161.3,306.1 L161.3,305.4 L161.3,304.7 L161.3,304.0 L161.3,303.3 L161.3,302.6 L161.3,301.9 L161.3,301.2 L161.3,300.5 L161.3,299.8 L161.3,299.1 L161.3,298.4 L161.3,297.7 L161.3,297.0 L161.3,296.3 L161.3,295.6 L161.3,294.9 L161.3,294.2 L161.3,293.5 L161.3,292.8 L161.3,292.1 L161.3,291.4 L161.3,290.7 L161.3,290.0 L161.3,289.3 L161.3,288.6 L161.3,287.9 L161.3,287.2 L161.3,286.5 L161.3,285.8 L161.3,285.1 L161.3,284.4 L161.3,283.7 L161.3,283.0 L161.3,282.3 L161.3,281.6 L161.4,280.9 L161.4,280.2 L161.4,279.5 L161.4,278.8 L161.4,278.1 L161.4,277.4 L161.4,276.7 L161.4,276.0 L161.4,275.3 L161.4,274.6 L161.4,273.9 L161.4,273.2 L161.4,272.5 L161.4,271.8 L161.4,271.1 L161.4,270.4 L161.4,269.7 L161.4,269.0 L161.4,268.3 L161.4,267.6 L161.4,266.9 L161.4,266.2 L161.4,265.5 L161.4,264.8 L161.4,264.1 L161.4,263.4 L161.4,262.7 L161.4,262.0 L161.4,261.3 L161.5,260.6 L161.5,259.9 L161.5,259.2 L161.5,258.5 L161.5,257.8 L161.5,257.1 L161.5,256.4 L161.5,255.7 L161.5,255.0 L161.5,254.3 L161.5,253.6 L161.5,252.9 L161.6,252.2 L161.6,251.5 L161.6,250.8 L161.6,250.1 L161.6,249.4 L161.6,248.7 L161.6,248.0 L161.6,247.3 L161.6,246.6 L161.7,245.9 L161.7,245.2 L161.7,244.5 L161.7,243.8 L161.7,243.1 L161.7,242.4 L161.7,241.7 L161.8,241.0 L161.8,240.3 L161.8,239.6 L161.8,238.9 L161.8,238.2 L161.8,237.5 L161.9,236.8 L161.9,236.1 L161.9,235.4 L161.9,234.7 L161.9,234.0 L161.9,233.3 L162.0,232.6 L162.0,231.9 L162.0,231.2 L162.0,230.5 L162.1,229.8 L162.1,229.1 L162.1,228.4 L162.2,227.7 L162.2,227.0 L162.2,226.3 L162.3,225.6 L162.3,224.9 L162.4,224.2 L162.4,223.5 L162.4,222.8 L162.5,222.1 L162.5,221.4 L162.6,220.7 L162.6,220.0 L162.7,219.3 L162.7,218.6 L162.7,217.9 L162.8,217.2 L162.8,216.5 L162.9,215.8 L162.9,215.1 L163.0,214.4 L163.0,213.7 L163.1,213.0 L163.1,212.3 L163.2,211.6 L163.2,210.9 L163.3,210.2 L163.3,209.5 L163.4,208.8 L163.4,208.1 L163.5,207.5 L163.5,206.8 L163.6,206.1 L163.7,205.4 L163.7,204.7 L163.8,204.0 L163.8,203.3 L163.9,202.6 L164.0,201.9 L164.0,201.2 L164.1,200.5 L164.2,199.8 L164.2,199.1 L164.3,198.4 L164.4,197.7 L164.4,197.0 L164.5,196.3 L164.6,195.6 L164.7,194.9 L164.7,194.2 L164.8,193.5 L164.9,192.8 L165.0,192.1 L165.0,191.4 L165.1,190.7 L165.2,190.0 L165.3,189.3 L165.4,188.6 L165.4,187.9 L165.5,187.3 L165.6,186.6 L165.7,185.9 L165.8,185.2 L165.9,184.5 L166.0,183.8 L166.0,183.1 L166.1,182.4 L166.2,181.7 L166.3,181.0 L166.5,180.3 L166.6,179.6 L166.7,178.9 L166.8,178.2 L166.9,177.6 L167.0,176.9 L167.1,176.2 L167.2,175.5 L167.4,174.8 L167.5,174.1 L167.6,173.4 L167.7,172.7 L167.8,172.0 L167.9,171.3 L168.0,170.6 L168.1,169.9 L168.2,169.3 L168.3,168.6 L168.4,167.9 L168.5,167.2 L168.6,166.5 L168.7,165.8 L168.8,165.1 L168.9,164.4 L169.0,163.7 L169.1,163.0 L169.1,162.3 L169.2,161.6 L169.3,160.9 L169.3,160.2 L169.4,159.5 L169.5,158.8 L169.5,158.1 L169.6,157.4 L169.7,156.7 L169.7,156.0 L169.8,155.3 L169.9,154.6 L169.9,153.9 L170.0,153.2 L170.1,152.5 L170.1,151.8 L170.2,151.1 L170.3,150.4 L170.4,149.7 L170.4,149.0 L170.5,148.4 L170.6,147.7 L170.7,147.0 L170.8,146.3 L170.9,145.6 L171.0,144.9 L171.1,144.2 L171.2,143.5 L171.3,142.8 L171.4,142.2 L171.5,141.5 L171.6,140.8 L171.8,140.1 L171.9,139.4 L172.1,138.7 L172.2,138.0 L172.4,137.3 L172.5,136.7 L172.7,136.0 L172.9,135.3 L173.1,134.6 L173.2,133.9 L173.4,133.3 L173.6,132.6 L173.8,131.9 L174.0,131.2 L174.2,130.6 L174.4,129.9 L174.6,129.2 L174.8,128.5 L175.0,127.9 L175.2,127.2 L175.4,126.6 L175.7,125.9 L175.9,125.3 L176.1,124.6 L176.4,123.9 L176.6,123.3 L176.9,122.6 L177.2,122.0 L177.5,121.4 L177.7,120.7 L178.0,120.0 L178.3,119.4 L178.6,118.8 L179.0,118.2 L179.3,117.5 L179.6,116.9 L179.9,116.3 L180.3,115.6 L180.6,115.1 L181.0,114.5 L181.4,113.9 L181.9,113.4 L182.3,112.9 L182.8,112.3 L183.3,111.8 L183.9,111.2 L184.4,110.9 L185.0,110.8 L185.6,110.2 L186.3,110.2 L186.9,109.7 L187.6,109.6 L188.2,109.2 L188.9,108.7 L189.5,108.7 L190.2,108.7 L190.9,107.8 L191.6,107.5 L192.2,108.2 L192.9,107.5 L193.6,106.7 L194.3,107.1 L195.0,107.7 L195.7,106.9 L196.3,107.5 L197.0,107.6 L197.7,106.7 L198.4,106.0 L199.1,105.8 L199.8,106.4 L200.5,106.9 L201.2,106.5 L201.9,106.6 L202.6,106.0 L203.3,106.3 L204.0,105.9 L204.7,105.9 L205.4,105.3 L206.1,105.0 L206.8,105.5 L207.5,105.1 L208.2,105.1 L208.8,105.9 L209.5,105.4 L210.2,106.5 L210.9,105.8 L211.6,104.9 L212.3,105.7 L213.0,105.4 L213.7,104.8 L214.4,105.8 L215.1,104.8 L215.8,104.0 L216.5,105.6 L217.2,104.8 L217.9,106.0 L218.6,104.8 L219.3,104.5 L220.0,106.0 L220.7,104.6 L221.4,105.3 L222.1,106.0 L222.8,105.3 L223.5,105.3 L224.2,105.4 L224.9,105.8 L225.6,104.9 L226.3,105.6 L227.0,105.6 L227.7,106.4 L228.4,105.0 L229.1,104.6 L229.8,105.5 L230.5,104.8 L231.2,105.1 L231.9,105.0 L232.6,105.5 L233.3,104.4 L234.0,104.6 L234.7,103.5 L235.4,104.0 L236.1,105.3 L236.8,104.0 L237.5,103.9 L238.2,103.6 L238.9,104.5 L239.6,104.2 L240.3,103.4 L241.0,104.4 L241.7,104.1 L242.4,104.3 L243.1,103.5 L243.8,104.8 L244.5,104.0 L245.2,103.7 L245.9,103.4 L246.6,103.6 L247.3,104.1 L248.0,103.4 L248.7,104.1 L249.4,103.8 L250.1,104.2 L250.8,103.8 L251.5,103.3 L252.2,102.2 L252.9,103.4 L253.6,103.6 L254.3,103.2 L255.0,103.4 L255.7,102.9 L256.4,102.9 L257.1,102.6 L257.8,103.9 L258.5,103.3 L259.2,103.0 L259.9,102.6 L260.6,103.2 L261.3,104.1 L262.0,103.5 L262.7,102.8 L263.4,103.9 L264.1,103.8 L264.8,103.5 L265.5,103.3 L266.2,103.4 L266.9,103.0 L267.6,103.1 L268.3,102.2 L269.0,103.5 L269.7,102.8 L270.4,103.8 L271.1,101.5 L271.8,103.1 L272.5,103.2 L273.2,102.6 L273.9,103.0 L274.6,103.2 L275.3,103.2 L276.0,102.6 L276.7,102.9 L277.4,103.6 L278.1,103.8 L278.8,103.3 L279.5,103.3 L280.2,103.4 L280.9,103.9 L281.6,102.8 L282.3,102.7 L283.0,103.5 L283.7,102.9 L284.4,103.2 L285.1,103.5 L285.8,103.7 L286.5,102.8 L287.2,103.8 L287.9,102.4 L288.6,103.6 L289.3,102.4 L290.0,102.6 L290.7,103.6 L291.4,103.0 L292.1,102.8 L292.8,103.0 L293.5,103.6 L294.2,103.3 L294.9,103.3 L295.6,104.0 L296.3,103.0 L297.0,103.2 L297.7,103.1 L298.4,104.1 L299.1,103.9 L299.8,104.1 L300.5,103.3 L301.2,103.3 L301.9,103.8 L302.6,103.1 L303.3,103.8 L304.0,103.8 L304.7,103.1 L305.4,103.4 L306.1,103.5 L306.8,104.5 L307.5,104.8 L308.2,103.6 L308.9,103.7 L309.6,102.5 L310.3,103.8 L311.0,103.7 L311.7,103.1 L312.4,104.1 L313.1,102.8 L313.8,103.5 L314.5,103.7 L315.2,102.9 L315.9,104.0 L316.6,104.2 L317.3,102.8 L318.0,102.8 L318.7,103.9 L319.4,103.5 L320.1,102.8 L320.8,103.3 L321.5,103.4 L322.2,103.3 L322.9,103.8 L323.6,103.6 L324.3,104.3 L325.0,104.1 L325.7,103.7 L326.4,104.0 L327.1,104.1 L327.8,103.9 L328.5,102.9 L329.2,104.1 L329.9,103.7 L330.6,104.7 L331.3,103.9 L332.0,104.2 L332.7,104.2 L333.4,105.0 L334.1,104.2 L334.8,104.0 L335.5,104.4 L336.2,104.0 L336.9,104.3 L337.6,104.3 L338.3,104.4 L339.0,105.3 L339.7,104.1 L340.4,104.3 L341.1,104.2 L341.8,104.6 L342.5,103.6 L343.2,103.9 L343.9,104.2 L344.6,104.6 L345.3,104.3 L346.0,104.0 L346.7,103.9 L347.4,104.7 L348.1,105.3 L348.8,104.7 L349.5,104.7 L350.2,105.0 L350.9,104.3 L351.6,104.8 L352.3,104.9 L353.0,105.3 L353.7,105.2 L354.4,104.6 L355.1,105.9 L355.8,106.3 L356.5,105.2 L357.1,105.6 L357.8,105.6 L358.5,105.9 L359.2,104.7 L359.9,106.5 L360.6,105.4 L361.3,106.4 L362.0,105.9 L362.7,105.7 L363.4,105.9 L364.1,106.6 L364.8,105.7 L365.5,106.1 L366.2,106.1 L366.9,105.5 L367.6,107.2 L368.3,106.9 L369.0,106.6 L369.7,107.2 L370.4,106.1 L371.1,106.6 L371.8,107.5 L372.5,107.1 L373.2,105.4 L373.9,105.4 L374.6,106.0 L375.3,107.1 L376.0,106.2 L376.7,106.4 L377.4,106.8 L378.1,106.0 L378.8,106.6 L379.5,106.9 L380.2,106.7 L380.9,106.7 L381.6,106.2 L382.3,106.9 L383.0,106.4 L383.7,107.5 L384.4,108.0 L385.1,106.6 L385.7,106.0 L386.4,107.1 L387.1,107.6 L387.8,108.1 L388.5,108.3 L389.2,107.4 L389.9,107.5 L390.6,108.7 L391.3,107.5 L392.0,108.8 L392.7,108.2 L393.4,108.8 L394.1,108.8 L394.8,108.9 L395.5,108.9 L396.2,108.0 L396.9,108.8 L397.6,108.7 L398.3,108.9 L399.0,109.4 L399.7,108.7 L400.4,108.5 L401.1,108.6 L401.8,108.8 L402.5,109.5 L403.2,108.7 L403.8,109.8 L404.5,109.3 L405.2,109.1 L405.9,108.5 L406.6,109.4 L407.3,109.7 L408.0,108.4 L408.7,110.1 L409.4,110.4 L410.1,109.8 L410.8,109.9 L411.5,110.9 L412.2,110.5 L412.9,109.5 L413.6,110.0 L414.3,110.1 L415.0,110.2 L415.7,109.2 L416.4,110.8 L417.1,110.2 L417.8,110.7 L418.5,110.6 L419.2,111.2 L419.9,110.6 L420.6,110.4 L421.3,111.2 L422.0,111.7 L422.7,110.8 L423.4,111.7 L424.1,111.1 L424.8,110.7 L425.5,111.8 L426.2,110.5 L426.9,111.5 L427.6,110.7 L428.3,111.3 L429.0,110.4 L429.7,110.6 L430.4,111.7 L431.1,111.3 L431.8,111.3 L432.4,111.1 L433.1,111.7 L433.8,110.8 L434.5,111.1 L435.2,111.8 L435.9,111.5 L436.6,111.7 L437.3,112.2 L438.0,112.2 L438.7,112.3 L439.4,113.4 L440.1,113.1 L440.8,113.3 L441.5,112.7 L442.2,112.5 L442.9,112.1 L443.6,112.7 L444.3,111.9 L445.0,112.8 L445.7,113.6 L446.4,114.2 L447.1,114.0 L447.8,113.1 L448.5,113.9 L449.2,113.3 L449.9,114.3 L450.6,113.9 L451.3,114.5 L451.9,115.2 L452.6,114.7 L453.3,115.4 L454.0,114.4 L454.7,114.1 L455.4,115.1 L456.1,115.3 L456.8,114.1 L457.5,114.5 L458.2,113.7 L458.9,114.5 L459.6,115.1 L460.3,114.7 L461.0,114.5 L461.7,114.1 L462.4,115.2 L463.1,115.5 L463.8,115.5 L464.5,115.4 L465.2,114.6 L465.9,116.4 L466.5,115.4 L467.2,115.5 L467.9,116.0 L468.6,114.6 L469.3,115.7 L470.0,115.8 L470.7,116.2 L471.4,116.8 L472.1,116.4 L472.8,115.2 L473.5,116.2 L474.2,116.6 L474.9,116.6 L475.6,115.9 L476.3,115.8 L477.0,117.1 L477.7,117.1 L478.4,116.9 L479.1,116.1 L479.8,118.0 L480.4,115.5 L481.1,116.9 L481.8,118.7 L482.5,117.1 L483.2,117.4 L483.9,116.5 L484.6,118.4 L485.3,116.5 L486.0,117.7 L486.7,117.7 L487.4,116.9 L488.1,118.4 L488.8,116.8 L489.5,117.4 L490.2,118.0 L490.9,117.8 L491.6,118.5 L492.2,119.0 L492.9,118.2 L493.6,118.1 L494.3,118.2 L495.0,118.4 L495.7,119.3 L496.4,118.6 L497.1,119.1 L497.8,118.8 L498.5,118.3 L499.2,119.6 L499.9,118.3 L500.6,119.2 L501.3,120.4 L502.0,118.6 L502.7,119.6 L503.4,118.6 L504.1,119.6 L504.8,119.0 L505.4,120.1 L506.1,120.1 L506.8,120.7 L507.5,121.9 L508.2,121.0 L508.9,121.4 L509.6,120.9 L510.3,120.8 L511.0,120.4 L511.7,119.7 L512.4,121.1 L513.1,122.3 L513.8,121.5 L514.5,120.8 L515.2,122.4 L515.9,120.9 L516.6,120.9 L517.3,120.5 L518.0,120.7 L518.7,121.4 L519.4,123.1 L520.1,121.6 L520.8,121.0 L521.5,121.4 L522.2,121.8 L522.9,120.8 L523.6,122.2 L524.3,122.7 L525.0,122.5 L525.7,122.7 L526.4,121.4 L527.0,121.2 L527.7,123.5 L528.4,123.4 L529.1,121.5 L529.8,122.9 L530.5,122.8 L531.2,123.2 L531.9,123.0 L532.6,122.6 L533.3,123.2 L534.0,123.2 L534.7,123.2 L535.4,121.9 L536.1,121.9 L536.8,123.0 L537.4,122.5 L538.1,124.1 L538.8,124.6 L539.5,124.4 L540.2,124.2 L540.9,124.7 L541.6,125.6 L542.3,124.4 L543.0,125.7 L543.7,125.7 L544.3,125.5 L545.0,126.4 L545.7,124.9 L546.4,126.1 L547.1,124.8 L547.8,124.9 L548.5,124.7 L549.2,125.8 L549.9,124.9 L550.6,125.6 L551.2,124.8 L551.9,126.5 L552.6,127.2 L553.3,126.1 L554.0,127.2 L554.7,126.6 L555.4,127.8 L556.1,126.5 L556.8,125.4 L557.5,127.7 L558.1,126.7 L558.8,126.1 L559.5,126.5 L560.2,126.0 L560.9,127.2 L561.6,126.7 L562.3,128.7 L563.0,128.2 L563.7,126.7 L564.4,127.0 L565.1,127.9 L565.7,127.1 L566.4,128.6 L567.1,128.8 L567.8,128.4 L568.5,128.8 L569.2,129.7 L569.9,130.5 L570.6,130.7 L571.3,129.8 L572.0,130.5 L572.7,129.5 L573.4,130.4 L574.0,129.6 L574.7,130.9 L575.4,129.6 L576.1,130.0 L576.8,130.8 L577.5,131.4 L578.2,130.1 L578.9,130.9 L579.6,131.5 L580.3,131.7 L581.0,131.0 L581.7,131.8 L582.3,131.7 L583.0,133.0 L583.7,132.5 L584.4,131.1 L585.1,130.6 L585.8,132.3 L586.5,133.1 L587.2,132.4 L587.9,132.9 L588.6,131.9 L589.3,131.3 L590.0,132.8 L590.7,132.4 L591.4,132.8 L592.0,131.3 L592.7,132.5 L593.4,131.9 L594.1,133.0 L594.8,132.1 L595.5,132.1 L596.2,132.2 L596.9,133.7 L597.6,132.8 L598.3,132.3 L599.0,132.2 L599.7,132.3 L600.4,134.3 L601.1,132.0 L601.8,132.8 L602.5,134.0 L603.1,134.6 L603.8,133.7 L604.5,134.6 L605.2,134.7 L605.9,135.0 L606.6,134.4 L607.3,135.7 L608.0,134.7 L608.7,135.8 L609.4,133.9 L610.1,135.5 L610.8,133.9 L611.5,133.8 L612.2,135.4 L612.9,134.5 L613.6,135.5 L614.3,134.5 L615.0,136.6 L615.7,135.6 L616.3,134.9 L617.0,136.0 L617.7,136.7 L618.4,135.6 L619.1,136.7 L619.8,137.9 L620.5,137.2 L621.2,136.6 L621.9,136.3 L622.6,137.2 L623.3,135.8 L624.0,135.3 L624.7,136.5 L625.4,136.3 L626.1,138.4 L626.8,137.3 L627.5,136.5 L628.2,136.5 L628.8,137.8 L629.5,136.9 L630.2,137.2 L630.9,137.6 L631.6,137.9 L632.3,138.0 L633.0,138.1 L633.7,139.1 L634.4,139.5 L635.1,137.1 L635.8,140.0 L636.5,138.7 L637.2,139.6 L637.9,138.3 L638.5,139.2 L639.2,139.2 L639.9,139.2 L640.6,139.9 L641.3,139.8 L642.0,138.6 L642.7,139.4 L643.4,140.1 L644.1,140.1 L644.8,139.4 L645.5,139.6 L646.2,139.7 L646.8,139.1 L647.5,139.1 L648.2,141.3 L648.9,140.0 L649.6,140.5 L650.3,140.0 L651.0,141.7 L651.7,142.1 L652.4,140.9 L653.1,141.5 L653.8,140.7 L654.5,142.7 L655.2,142.2 L655.8,141.0 L656.5,142.7 L657.2,142.1 L657.9,142.2 L658.6,142.2 L659.3,141.5 L660.0,141.7 L660.7,142.6 L661.4,142.2 L662.1,141.6 L662.8,143.8 L663.5,142.3 L664.2,142.1 L664.8,142.0 L665.5,143.1 L666.2,143.4 L666.9,142.9 L667.6,143.5 L668.3,141.8 L669.0,142.7 L669.7,142.7 L670.4,143.1 L671.1,143.6 L671.8,141.8 L672.5,144.9 L673.2,142.9 L673.9,144.0 L674.6,144.5 L675.3,144.6 L676.0,144.3 L676.7,142.6 L677.4,143.5 L678.0,145.0 L678.7,143.8 L679.4,143.8 L680.1,143.0 L680.8,145.5 L681.5,145.0 L682.2,143.9 L682.9,144.5 L683.6,144.5 L684.3,143.8 L685.0,144.4 L685.7,144.8 L686.4,145.1 L687.1,145.7 L687.8,144.9 L688.5,144.6 L689.2,145.4 L689.9,144.8 L690.6,144.4 L691.2,146.3 L691.9,145.3 L692.6,145.8 L693.3,146.3 L694.0,145.2 L694.7,146.6 L695.4,146.6 L696.1,146.4 L696.8,146.9 L697.5,146.2 L698.2,145.4 L698.9,146.9 L699.6,146.6 L700.3,148.1 L701.0,147.8 L701.7,147.3 L702.3,147.9 L703.0,148.9 L703.7,148.9 L704.4,148.4 L705.1,148.5 L705.8,148.0 L706.5,148.1 L707.2,148.7 L707.9,148.2 L708.6,148.6 L709.3,147.6 L710.0,147.3 L710.7,147.3 L711.3,148.4 L712.0,149.8 L712.7,149.8 L713.4,148.3 L714.1,148.1 L714.8,150.0 L715.5,149.9 L716.2,148.7 L716.9,150.6 L717.6,150.1 L718.3,151.1 L719.0,150.5 L719.6,151.0 L720.3,150.8 L721.0,150.0 L721.7,150.6 L722.4,150.4 L723.1,151.7 L723.8,150.5 L724.5,150.2 L725.2,151.9 L725.9,152.4 L726.6,152.7 L727.3,152.5 L728.0,150.7 L728.6,151.3 L729.3,151.5 L730.0,151.9 L730.7,150.4 L731.4,152.0 L732.1,152.2 L732.8,151.4 L733.5,152.3 L734.2,153.1 L734.9,152.4 L735.6,153.3 L736.3,153.4 L737.0,153.1 L737.6,153.2 L738.3,152.8 L739.0,154.1 L739.7,153.0 L740.4,152.9 L741.1,154.1 L741.8,153.1 L742.5,154.1 L743.2,154.6 L743.9,154.0 L744.6,154.0 L745.3,154.7 L746.0,154.6 L746.6,152.9 L747.3,153.1 L748.0,155.1 L748.7,154.5 L749.4,152.7 L750.1,153.4 L750.8,154.5 L751.5,153.8 L752.2,155.0 L752.9,154.9 L753.6,155.3 L754.3,154.3 L755.0,155.7 L755.7,156.8 L756.3,154.9 L757.0,156.6 L757.7,156.4 L758.4,156.3 L759.1,155.8 L759.8,155.0 L760.5,155.3 L761.2,156.5 L761.9,156.7 L762.6,157.0 L763.3,156.8 L764.0,156.8 L764.7,155.9 L765.4,155.4 L766.0,156.5 L766.7,156.9 L767.4,156.7 L768.1,155.6 L768.8,156.5 L769.5,156.0 L770.2,157.3 L770.9,156.6 L771.6,157.4 L772.3,157.9 L773.0,157.9 L773.7,158.9 L774.4,157.2 L775.1,156.6 L775.8,158.9 L776.5,159.3 L777.1,159.4 L777.8,158.5 L778.5,158.7 L779.2,158.4 L779.9,157.4 L780.6,158.0 L781.3,158.8 L782.0,158.0 L782.7,159.9 L783.4,157.4 L784.1,158.3 L784.8,159.6 L785.5,158.4 L786.2,158.2 L786.9,158.2 L787.6,158.8 L788.3,160.7 L788.9,160.1 L789.6,160.4 L790.3,159.8 L791.0,161.1 L791.7,160.8 L792.4,160.2 L793.1,160.8 L793.8,161.5 L794.5,162.3 L795.2,161.6 L795.9,162.1 L796.6,163.2 L797.3,161.2 L798.0,160.9 L798.7,162.5 L799.4,162.0 L800.1,161.6 L800.8,161.8 L801.5,161.4 L802.1,162.0 L802.8,161.4 L803.5,162.3 L804.2,160.9 L804.9,161.3 L805.6,162.1 L806.3,161.8 L807.0,162.8 L807.7,162.5 L808.4,162.3 L809.1,163.0 L809.8,162.6 L810.5,161.9 L811.2,162.4 L811.9,162.7 L812.6,163.0 L813.3,163.4 L814.0,164.0 L814.7,163.8 L815.3,164.7 L816.0,164.3 L816.7,163.3 L817.4,164.6 L818.1,164.4 L818.8,163.2 L819.5,163.9 L820.2,164.5 L820.9,164.0 L821.6,164.7 L822.3,164.3 L823.0,164.6 L823.7,164.0 L824.4,164.6 L825.1,164.1 L825.8,164.9 L826.5,163.3 L827.2,164.8 L827.9,165.6 L828.5,165.2 L829.2,164.8 L829.9,165.4 L830.6,164.5 L831.3,164.6 L832.0,165.1 L832.7,165.4 L833.4,166.4 L834.1,165.2 L834.8,166.7 L835.5,164.9 L836.2,165.6 L836.9,166.2 L837.6,167.2 L838.3,165.9 L839.0,164.9 L839.7,166.8 L840.4,166.5 L841.1,165.8 L841.7,165.9 L842.4,166.2 L843.1,166.9 L843.8,167.4 L844.5,165.9 L845.2,168.6 L845.9,167.1 L846.6,167.0 L847.3,167.9 L848.0,167.5 L848.7,169.1 L849.4,168.5 L850.1,167.5 L850.8,167.5 L851.5,167.5 L852.2,167.7 L852.9,168.5 L853.6,167.6 L854.3,169.3 L854.9,168.1 L855.6,168.1 L856.3,169.0 L857.0,166.9 L857.7,167.7 L858.4,169.0 L859.1,168.6 L859.8,168.7 L860.5,169.1 L861.2,168.4 L861.9,168.8 L862.6,168.0 L863.3,167.8 L864.0,170.2 L864.7,168.7 L865.4,168.9 L866.1,170.6 L866.8,170.4 L867.5,169.4 L868.1,169.4 L868.8,169.9 L869.5,169.3 L870.2,170.5 L870.9,170.3 L871.6,170.4 L872.3,170.9 L873.0,171.0 L873.7,172.0 L874.4,171.9 L875.1,169.6 L875.8,171.7 L876.5,170.4 L877.2,170.3 L877.9,172.1 L878.6,171.2 L879.3,171.7 L880.0,172.9 L880.6,171.7 L881.3,171.7 L882.0,172.7 L882.7,173.4 L883.4,172.9 L884.1,171.4 L884.8,172.1 L885.5,172.4 L886.2,174.0 L886.9,173.2 L887.6,173.2 L888.3,173.5 L889.0,172.4 L889.7,173.1 L890.4,173.1 L891.1,172.1 L891.8,172.9 L892.5,173.4 L893.1,172.2 L893.8,173.6 L894.5,173.6 L895.2,173.9 L895.9,172.6 L896.6,173.2 L897.3,174.3 L898.0,173.8 L898.7,172.7 L899.4,173.5 L900.1,174.5 L900.8,173.5 L901.5,173.9 L902.2,175.2 L902.9,173.8 L903.6,173.8 L904.3,173.2 L905.0,173.5 L905.6,175.2 L906.3,174.0 L907.0,173.3 L907.7,173.5 L908.4,174.2 L909.1,174.8 L909.8,173.7 L910.5,174.9 L911.2,174.1 L911.9,174.8 L912.6,175.1 L913.3,175.3 L914.0,174.6 L914.7,175.0 L915.4,175.6 L916.1,174.4 L916.8,175.6 L917.5,176.0 L918.2,176.5 L918.8,175.8 L919.5,175.8 L920.2,176.2 L920.9,175.7 L921.6,176.2 L922.3,176.8 L923.0,176.8 L923.7,176.0 L924.4,176.7 L925.1,175.5 L925.8,177.7 L926.5,176.9 L927.2,177.5 L927.9,176.6 L928.6,177.4 L929.3,177.9 L930.0,178.3 L930.7,176.6 L931.3,178.3 L932.0,177.6 L932.7,177.2 L933.4,178.2 L934.1,177.7 L934.8,177.8 L935.5,177.6 L936.2,178.4 L936.9,178.4 L937.6,178.3 L938.3,177.9 L939.0,178.3 L939.7,179.1 L940.4,179.9 L941.1,179.0 L941.8,180.2 L942.5,179.3 L943.2,178.6 L943.9,180.0 L944.5,178.9 L945.2,180.0 L945.9,180.6 L946.6,179.7 L947.3,179.9 L948.0,181.6 L948.7,180.2 L949.4,180.3 L950.1,180.8 L950.8,180.2 L951.5,180.3 L952.2,180.7 L952.9,179.0 L953.6,181.7 L954.3,180.0 L955.0,180.1 L955.7,181.4 L956.4,181.1 L957.1,180.2 L957.7,181.4 L958.4,180.4 L959.1,180.8 L959.8,180.2 L960.5,180.8 L961.2,181.7 L961.9,181.6 L962.6,181.8 L963.3,182.3 L964.0,181.7 L964.7,181.4 L965.4,181.8 L966.1,183.3 L966.8,182.3 L967.5,182.6 L968.2,182.4 L968.9,182.8 L969.6,183.0 L970.3,182.8 L970.9,182.8 L971.6,182.4 L972.3,182.4 L973.0,183.4 L973.7,183.7 L974.4,183.9 L975.1,183.3 L975.8,182.7 L976.5,183.9 L977.2,183.9 L977.9,182.4 L978.6,184.2 L979.3,184.1 L980.0,184.9 L980.7,183.0 L981.4,182.9 L982.1,184.5 L982.8,182.7 L983.4,183.6 L984.1,183.5 L984.8,183.6 L985.5,183.1 L986.2,184.4 L986.9,185.5 L987.6,185.2 L988.3,185.3 L989.0,184.8 L989.7,186.2 L990.4,185.6 L991.1,186.1 L991.8,184.2 L992.5,185.7 L993.2,184.7 L993.9,185.8 L994.6,185.8 L995.2,184.9 L995.9,185.9 L996.6,186.8 L997.3,186.4 L998.0,186.6 L998.7,185.6 L999.4,185.8 L1000.1,185.6 L1000.8,186.6 L1001.5,187.5 L1002.2,187.0 L1002.9,186.7 L1003.6,186.0 L1004.3,187.2 L1005.0,186.7 L1005.7,185.6 L1006.4,185.8 L1007.1,186.9 L1007.7,186.7 L1008.4,188.7 L1009.1,187.6 L1009.8,187.0 L1010.5,187.6 L1011.2,189.3 L1011.9,187.6 L1012.6,189.1 L1013.3,189.0 L1014.0,189.9 L1014.7,189.3 L1015.4,188.7 L1016.1,189.5 L1016.8,189.3 L1017.5,190.0 L1018.2,189.3 L1018.9,190.8 L1019.6,189.3 L1020.3,189.8 L1021.0,189.0 L1021.6,189.6 L1022.3,189.6 L1023.0,189.7 L1023.7,190.3 L1024.4,189.3 L1025.1,189.1 L1025.8,190.6 L1026.5,189.6 L1027.2,189.4 L1027.9,190.8 L1028.6,190.6 L1029.3,188.5 L1030.0,189.8 L1030.7,190.7 L1031.4,190.7 L1032.1,189.7 L1032.8,191.3 L1033.5,189.5 L1034.2,189.9 L1034.9,190.2 L1035.6,190.1 L1036.3,190.7 L1037.0,190.9 L1037.7,190.1 L1038.3,191.2 L1039.0,189.8 L1039.7,190.2 L1040.4,191.7 L1041.1,190.6 L1041.8,191.5 L1042.5,190.5 L1043.2,190.7 L1043.9,191.0 L1044.6,191.3 L1045.3,191.0 L1046.0,191.3 L1046.7,191.9 L1047.4,192.4 L1048.1,191.7 L1048.8,192.1 L1049.5,192.4 L1050.2,191.0 L1050.9,190.7 L1051.6,193.1 L1052.3,192.9 L1053.0,192.1 L1053.7,192.4 L1054.4,191.5 L1055.1,191.3 L1055.8,192.6 L1056.5,191.4 L1057.2,193.3 L1057.8,192.2 L1058.5,193.1 L1059.2,194.4 L1059.9,194.5 L1060.6,193.0 L1061.3,194.1 L1062.0,192.7 L1062.7,193.1 L1063.4,193.8 L1064.1,194.6 L1064.8,193.2 L1065.5,194.1 L1066.2,193.8 L1066.9,192.8 L1067.6,193.6 L1068.3,194.9 L1069.0,193.8 L1069.7,194.3 L1070.4,194.6 L1071.1,193.6 L1071.8,195.2 L1072.5,195.5 L1073.2,195.7 L1073.9,195.6 L1074.6,194.5 L1075.3,194.5 L1076.0,194.5 L1076.7,194.5 L1077.4,194.7 L1078.0,196.2 L1078.7,196.6 L1079.4,195.1 L1080.1,196.2 L1080.8,194.7 L1081.5,195.5 L1082.2,195.0 L1082.9,194.5 L1083.6,195.7 L1084.3,195.7 L1085.0,195.4 L1085.7,195.3 L1086.4,194.9 L1087.1,195.5 L1087.8,195.2 L1088.5,195.9 L1089.2,194.9 L1089.9,196.0 L1090.6,196.4 L1091.3,197.0 L1092.0,197.0 L1092.7,196.5 L1093.4,196.0 L1094.1,195.3 L1094.8,196.8 L1095.5,197.9 L1096.2,198.2 L1096.9,195.4 L1097.6,196.4 L1098.3,196.7 L1099.0,196.1 L1099.7,197.0 L1100.4,196.9 L1101.1,196.4 L1101.8,196.7 L1102.4,195.5 L1103.1,196.0 L1103.8,196.0 L1104.5,197.3 L1105.2,195.5 L1105.9,196.6 L1106.6,197.3 L1107.3,196.7 L1108.0,197.4 L1108.7,196.3 L1109.4,197.1 L1110.1,197.4 L1110.8,198.3 L1111.5,197.3 L1112.2,197.9 L1112.9,196.9 L1113.6,197.0 L1114.3,198.2 L1115.0,197.5 L1115.7,198.2 L1116.4,197.8 L1117.1,199.0 L1117.8,199.1 L1118.5,197.0 L1119.2,199.1 L1119.9,198.2 L1120.6,198.3 L1121.3,198.0 L1122.0,198.7 L1122.7,197.4 L1123.4,197.7 L1124.1,197.7 L1124.8,198.6 L1125.5,199.1 L1126.2,199.0 L1126.9,198.7 L1127.6,198.0 L1128.3,197.2 L1129.0,198.9 L1129.7,198.8 L1130.4,199.0 L1131.1,199.9 L1131.8,198.8 L1132.5,198.9 L1133.2,197.6 L1133.9,199.8 L1134.6,199.4 L1135.3,199.0 L1136.0,199.9 L1136.7,199.0 L1137.4,199.4 L1138.1,201.3 L1138.8,200.5 L1139.5,200.6 L1140.2,200.5 L1140.9,200.4 L1141.6,200.1 L1142.3,201.5 L1142.9,199.9 L1143.6,200.5 L1144.3,199.8 L1145.0,199.8 L1145.7,198.4 L1146.4,198.6 L1147.1,201.2 L1147.8,201.2 L1148.5,199.9 L1149.2,200.2 L1149.9,200.8 L1150.6,199.6 L1151.3,201.8 L1152.0,199.8 L1152.7,200.1 L1153.4,199.1 L1154.1,201.9 L1154.8,200.9 L1155.0,202.1" stroke="#0000ff" stroke-width="4.0" style="stroke-linejoin:round"/>
<!-- arrows -->
<g fill="#ff0000" stroke="#ff0000" stroke-width="1" stroke-linejoin="round">
<rect x="277.3" y="11.25" width="3.2" height="523.75" stroke="none"/>
<path d="M278.9,546.6 L270.6,533 L278.9,535.2 L287.4,533 Z"/>
<rect x="475.9" y="11.25" width="3.2" height="523.75" stroke="none"/>
<path d="M477.5,546.6 L469.2,533 L477.5,535.2 L486,533 Z"/>
</g>
<!-- annotations -->
<g class="hv" fill="#000" font-size="29.4">
<text transform="translate(191.2,537.7) rotate(-60)" x="-11.4" y="0">Oxide Region</text>
<text transform="translate(340,527) rotate(-60)" x="0" y="0" textLength="199.2" lengthAdjust="spacingAndGlyphs">Interface region</text>
<text x="566" y="506.4" font-style="italic" textLength="198" lengthAdjust="spacingAndGlyphs">Alloy Substrate</text>
</g>
<!-- axes -->
<g stroke="#000" stroke-width="1.8" fill="none">
<rect x="159.2" y="11.25" width="996.7" height="536.5"/>
<line x1="159.2" y1="535" x2="159.2" y2="560.8"/><line x1="258.9" y1="535" x2="258.9" y2="560.8"/><line x1="258.9" y1="11.25" x2="258.9" y2="24.6"/><line x1="358.5" y1="535" x2="358.5" y2="560.8"/><line x1="358.5" y1="11.25" x2="358.5" y2="24.6"/><line x1="458.2" y1="535" x2="458.2" y2="560.8"/><line x1="458.2" y1="11.25" x2="458.2" y2="24.6"/><line x1="557.9" y1="535" x2="557.9" y2="560.8"/><line x1="557.9" y1="11.25" x2="557.9" y2="24.6"/><line x1="657.5" y1="535" x2="657.5" y2="560.8"/><line x1="657.5" y1="11.25" x2="657.5" y2="24.6"/><line x1="757.2" y1="535" x2="757.2" y2="560.8"/><line x1="757.2" y1="11.25" x2="757.2" y2="24.6"/><line x1="856.9" y1="535" x2="856.9" y2="560.8"/><line x1="856.9" y1="11.25" x2="856.9" y2="24.6"/><line x1="956.6" y1="535" x2="956.6" y2="560.8"/><line x1="956.6" y1="11.25" x2="956.6" y2="24.6"/><line x1="1056.2" y1="535" x2="1056.2" y2="560.8"/><line x1="1056.2" y1="11.25" x2="1056.2" y2="24.6"/><line x1="1155.9" y1="535" x2="1155.9" y2="560.8"/>
<line x1="146.3" y1="547.75" x2="159.2" y2="547.75"/><line x1="146.3" y1="440.45" x2="171.7" y2="440.45"/><line x1="146.3" y1="333.15" x2="171.7" y2="333.15"/><line x1="146.3" y1="225.85" x2="171.7" y2="225.85"/><line x1="146.3" y1="118.55" x2="171.7" y2="118.55"/><line x1="146.3" y1="11.25" x2="159.2" y2="11.25"/>
</g>
<g class="lg" font-size="33" fill="#000" stroke="#000" stroke-width="0.3">
<text transform="translate(159.4,598.9) scale(1.07,1)" text-anchor="middle" letter-spacing="-1.95">0</text><text transform="translate(259.8,598.9) scale(1.07,1)" text-anchor="middle" letter-spacing="-1.95">100</text><text transform="translate(358.7,598.9) scale(1.07,1)" text-anchor="middle" letter-spacing="-1.95">200</text><text transform="translate(458.4,598.9) scale(1.07,1)" text-anchor="middle" letter-spacing="-1.95">300</text><text transform="translate(558.1,598.9) scale(1.07,1)" text-anchor="middle" letter-spacing="-1.95">400</text><text transform="translate(657.8,598.9) scale(1.07,1)" text-anchor="middle" letter-spacing="-1.95">500</text><text transform="translate(757.4,598.9) scale(1.07,1)" text-anchor="middle" letter-spacing="-1.95">600</text><text transform="translate(857.1,598.9) scale(1.07,1)" text-anchor="middle" letter-spacing="-1.95">700</text><text transform="translate(956.8,598.9) scale(1.07,1)" text-anchor="middle" letter-spacing="-1.95">800</text><text transform="translate(1056.4,598.9) scale(1.07,1)" text-anchor="middle" letter-spacing="-1.95">900</text><text transform="translate(1156.8,598.9) scale(1.07,1)" text-anchor="middle" letter-spacing="-1.95">1,000</text>
<text x="140.9" y="560.2" text-anchor="end" textLength="100.8" lengthAdjust="spacingAndGlyphs">1e+00</text><text x="140.9" y="452.9" text-anchor="end" textLength="100.8" lengthAdjust="spacingAndGlyphs">1e+01</text><text x="140.9" y="345.6" text-anchor="end" textLength="100.8" lengthAdjust="spacingAndGlyphs">1e+02</text><text x="140.9" y="238.4" text-anchor="end" textLength="100.8" lengthAdjust="spacingAndGlyphs">1e+03</text><text x="140.9" y="131.1" text-anchor="end" textLength="100.8" lengthAdjust="spacingAndGlyphs">1e+04</text><text x="140.9" y="23.8" text-anchor="end" textLength="100.8" lengthAdjust="spacingAndGlyphs">1e+05</text>
<text x="525" y="641.7" stroke-width="0.5" textLength="304" lengthAdjust="spacingAndGlyphs">Sputtering Time (s)</text>
<text transform="translate(26.4,278.9) rotate(-90)" text-anchor="middle" stroke-width="0.5" textLength="276.9" lengthAdjust="spacingAndGlyphs">Intensity (counts)</text>
</g>
<!-- curve labels -->
<g class="lg">
<g fill="#000" stroke="#000" stroke-width="0.6">
<text x="1058" y="110.1" font-size="30.5" textLength="33" lengthAdjust="spacingAndGlyphs">Al</text>
<text x="1092.6" y="114.5" font-size="21" textLength="13.4" lengthAdjust="spacingAndGlyphs">2</text>
<text x="1107.5" y="97.6" font-size="21" textLength="13.4" lengthAdjust="spacingAndGlyphs" stroke-width="0.2">−</text>
</g>
<g fill="#0000ff" stroke="#0000ff" stroke-width="0.6">
<text x="1050" y="176.3" font-size="30.5" textLength="61" lengthAdjust="spacingAndGlyphs">AlO</text>
<text x="1111.6" y="181.3" font-size="21" textLength="13.4" lengthAdjust="spacingAndGlyphs">2</text>
<text x="1126.6" y="164.4" font-size="21" textLength="13.4" lengthAdjust="spacingAndGlyphs" stroke-width="0.2">−</text>
</g>
<g fill="#ff7f0e">
<text x="1056" y="286.7" font-size="32" textLength="45" lengthAdjust="spacingAndGlyphs">Cu</text>
<text x="1102" y="274.6" font-size="21" textLength="13" lengthAdjust="spacingAndGlyphs">−</text>
</g>
<g fill="#00ced1">
<text x="1064.5" y="394.7" font-size="21" textLength="26.5" lengthAdjust="spacingAndGlyphs">18</text>
<text x="1092" y="408.3" font-size="32" textLength="27" lengthAdjust="spacingAndGlyphs">O</text>
<text x="1120" y="396.2" font-size="21" textLength="13" lengthAdjust="spacingAndGlyphs">−</text>
</g>
</g>
</svg>
</body></html>
